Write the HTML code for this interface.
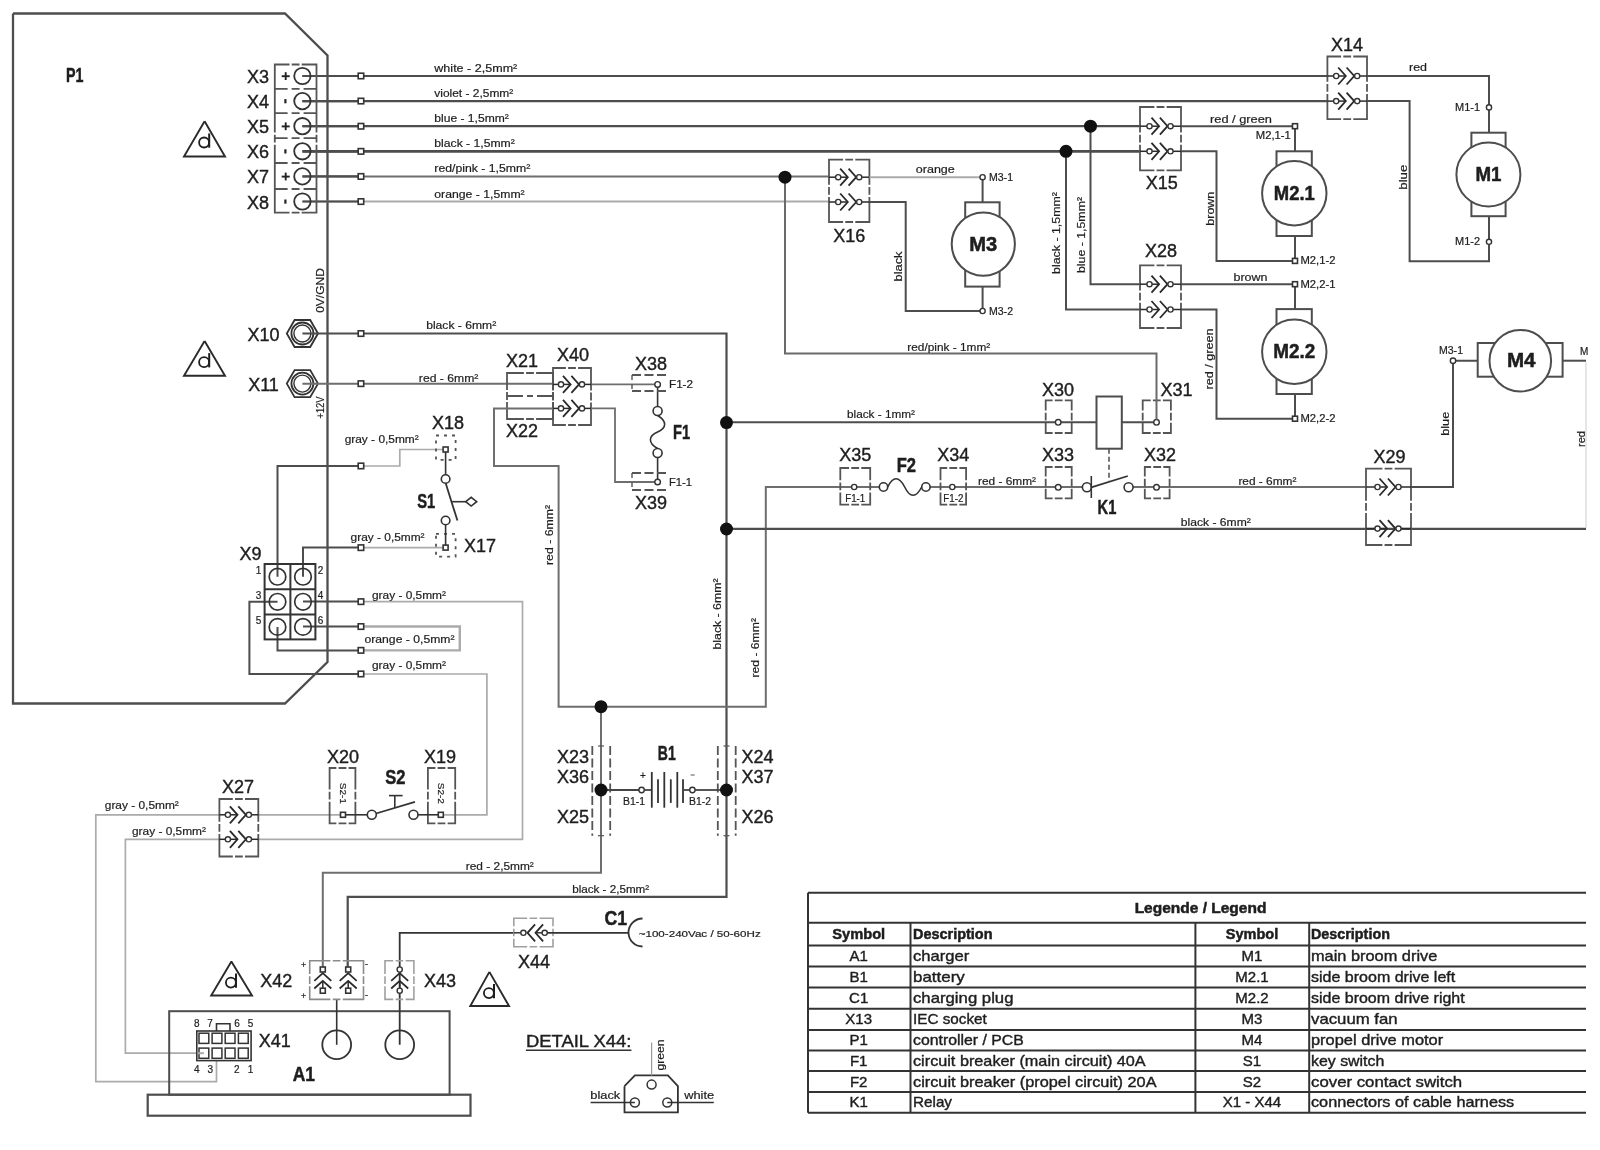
<!DOCTYPE html>
<html><head><meta charset="utf-8"><title>Wiring diagram</title>
<style>
html,body{margin:0;padding:0;background:#fff;}
body{width:1600px;height:1150px;overflow:hidden;}
svg{display:block;font-family:"Liberation Sans", sans-serif;will-change:transform;}
</style></head><body>
<svg width="1600" height="1150" viewBox="0 0 1600 1150">
<rect x="0" y="0" width="1600" height="1150" fill="#fff"/>
<path d="M13,13.5 L285,13.5 L327.5,55.5 L327.5,662 L285,703.5 L13,703.5 L13,13.5" fill="none" stroke="#4d4d4d" stroke-width="2.3" stroke-linejoin="miter"/>
<text x="74.8" y="75" font-size="20" font-weight="bold" text-anchor="middle" dominant-baseline="central" fill="#1e1e1e" textLength="17.5" lengthAdjust="spacingAndGlyphs" stroke="#1e1e1e" stroke-width="0.5">P1</text>
<path d="M204.6,121.3 L225,156.5 L184,156.5 L204.6,121.3" fill="none" stroke="#2a2a2a" stroke-width="1.9" stroke-linejoin="miter"/>
<circle cx="204.1" cy="142.5" r="5" fill="none" stroke="#1e1e1e" stroke-width="1.8"/>
<line x1="209.2" y1="133.4" x2="209.2" y2="147.7" stroke="#1e1e1e" stroke-width="2"/>
<path d="M204.6,341 L225,375.8 L184,375.8 L204.6,341" fill="none" stroke="#2a2a2a" stroke-width="1.9" stroke-linejoin="miter"/>
<circle cx="204.1" cy="362.2" r="5" fill="none" stroke="#1e1e1e" stroke-width="1.8"/>
<line x1="209.2" y1="353.1" x2="209.2" y2="367.4" stroke="#1e1e1e" stroke-width="2"/>
<path d="M302.4,76 L1327.4,76" fill="none" stroke="#4d4d4d" stroke-width="2.2" stroke-linejoin="miter"/>
<path d="M302.4,76 L361,76" fill="none" stroke="#4d4d4d" stroke-width="2.2" stroke-linejoin="miter"/>
<rect x="358.2" y="73.2" width="5.5" height="5.5" fill="#fff" stroke="#333" stroke-width="1.6"/>
<text x="434.3" y="68" font-size="11" font-weight="normal" text-anchor="start" dominant-baseline="central" fill="#1e1e1e" textLength="83" lengthAdjust="spacingAndGlyphs" stroke="#1e1e1e" stroke-width="0.2">white - 2,5mm²</text>
<text x="258" y="77" font-size="18" font-weight="normal" text-anchor="middle" dominant-baseline="central" fill="#1e1e1e" stroke="#1e1e1e" stroke-width="0.4">X3</text>
<path d="M302.4,101.1 L1327.4,101.1" fill="none" stroke="#4d4d4d" stroke-width="2.2" stroke-linejoin="miter"/>
<path d="M302.4,101.1 L361,101.1" fill="none" stroke="#4d4d4d" stroke-width="2.2" stroke-linejoin="miter"/>
<rect x="358.2" y="98.3" width="5.5" height="5.5" fill="#fff" stroke="#333" stroke-width="1.6"/>
<text x="434.3" y="93.1" font-size="11" font-weight="normal" text-anchor="start" dominant-baseline="central" fill="#1e1e1e" textLength="79" lengthAdjust="spacingAndGlyphs" stroke="#1e1e1e" stroke-width="0.2">violet - 2,5mm²</text>
<text x="258" y="102.1" font-size="18" font-weight="normal" text-anchor="middle" dominant-baseline="central" fill="#1e1e1e" stroke="#1e1e1e" stroke-width="0.4">X4</text>
<path d="M302.4,126.2 L1140,126.2" fill="none" stroke="#4d4d4d" stroke-width="2.2" stroke-linejoin="miter"/>
<path d="M302.4,126.2 L361,126.2" fill="none" stroke="#4d4d4d" stroke-width="2.2" stroke-linejoin="miter"/>
<rect x="358.2" y="123.5" width="5.5" height="5.5" fill="#fff" stroke="#333" stroke-width="1.6"/>
<text x="434.3" y="118.2" font-size="11" font-weight="normal" text-anchor="start" dominant-baseline="central" fill="#1e1e1e" textLength="74.5" lengthAdjust="spacingAndGlyphs" stroke="#1e1e1e" stroke-width="0.2">blue - 1,5mm²</text>
<text x="258" y="127.2" font-size="18" font-weight="normal" text-anchor="middle" dominant-baseline="central" fill="#1e1e1e" stroke="#1e1e1e" stroke-width="0.4">X5</text>
<path d="M302.4,151.3 L1140,151.3" fill="none" stroke="#4d4d4d" stroke-width="2.8" stroke-linejoin="miter"/>
<path d="M302.4,151.3 L361,151.3" fill="none" stroke="#4d4d4d" stroke-width="2.2" stroke-linejoin="miter"/>
<rect x="358.2" y="148.6" width="5.5" height="5.5" fill="#fff" stroke="#333" stroke-width="1.6"/>
<text x="434.3" y="143.3" font-size="11" font-weight="normal" text-anchor="start" dominant-baseline="central" fill="#1e1e1e" textLength="80.5" lengthAdjust="spacingAndGlyphs" stroke="#1e1e1e" stroke-width="0.2">black - 1,5mm²</text>
<text x="258" y="152.3" font-size="18" font-weight="normal" text-anchor="middle" dominant-baseline="central" fill="#1e1e1e" stroke="#1e1e1e" stroke-width="0.4">X6</text>
<path d="M302.4,176.4 L829,176.4" fill="none" stroke="#6e6e6e" stroke-width="2" stroke-linejoin="miter"/>
<path d="M302.4,176.4 L361,176.4" fill="none" stroke="#4d4d4d" stroke-width="2.2" stroke-linejoin="miter"/>
<rect x="358.2" y="173.7" width="5.5" height="5.5" fill="#fff" stroke="#333" stroke-width="1.6"/>
<text x="434.3" y="168.4" font-size="11" font-weight="normal" text-anchor="start" dominant-baseline="central" fill="#1e1e1e" textLength="96" lengthAdjust="spacingAndGlyphs" stroke="#1e1e1e" stroke-width="0.2">red/pink - 1,5mm²</text>
<text x="258" y="177.4" font-size="18" font-weight="normal" text-anchor="middle" dominant-baseline="central" fill="#1e1e1e" stroke="#1e1e1e" stroke-width="0.4">X7</text>
<path d="M302.4,201.5 L829,201.5" fill="none" stroke="#ababab" stroke-width="2" stroke-linejoin="miter"/>
<path d="M302.4,201.5 L361,201.5" fill="none" stroke="#4d4d4d" stroke-width="2.2" stroke-linejoin="miter"/>
<rect x="358.2" y="198.8" width="5.5" height="5.5" fill="#fff" stroke="#333" stroke-width="1.6"/>
<text x="434.3" y="193.5" font-size="11" font-weight="normal" text-anchor="start" dominant-baseline="central" fill="#1e1e1e" textLength="90.4" lengthAdjust="spacingAndGlyphs" stroke="#1e1e1e" stroke-width="0.2">orange - 1,5mm²</text>
<text x="258" y="202.5" font-size="18" font-weight="normal" text-anchor="middle" dominant-baseline="central" fill="#1e1e1e" stroke="#1e1e1e" stroke-width="0.4">X8</text>
<path d="M274.8,64.5 L288.6,64.5 M292.6,64.5 L298.6,64.5 M302.6,64.5 L316.5,64.5 M316.5,64.5 L316.5,131.6 M316.5,135.6 L316.5,141.6 M316.5,145.6 L316.5,212.6 M316.5,212.6 L302.6,212.6 M298.6,212.6 L292.6,212.6 M288.6,212.6 L274.8,212.6 M274.8,212.6 L274.8,145.6 M274.8,141.6 L274.8,135.6 M274.8,131.6 L274.8,64.5 " fill="none" stroke="#555" stroke-width="1.8" stroke-linecap="square"/>
<path d="M274.8,88.9 L287.6,88.9 M291.6,88.9 L299.6,88.9 M303.6,88.9 L316.5,88.9 " fill="none" stroke="#555" stroke-width="1.8" stroke-linecap="butt"/>
<path d="M274.8,113.2 L287.6,113.2 M291.6,113.2 L299.6,113.2 M303.6,113.2 L316.5,113.2 " fill="none" stroke="#555" stroke-width="1.8" stroke-linecap="butt"/>
<path d="M274.8,138.2 L287.6,138.2 M291.6,138.2 L299.6,138.2 M303.6,138.2 L316.5,138.2 " fill="none" stroke="#555" stroke-width="1.8" stroke-linecap="butt"/>
<path d="M274.8,163 L287.6,163 M291.6,163 L299.6,163 M303.6,163 L316.5,163 " fill="none" stroke="#555" stroke-width="1.8" stroke-linecap="butt"/>
<path d="M274.8,189 L287.6,189 M291.6,189 L299.6,189 M303.6,189 L316.5,189 " fill="none" stroke="#555" stroke-width="1.8" stroke-linecap="butt"/>
<circle cx="302.4" cy="76" r="8.2" fill="none" stroke="#333" stroke-width="1.8"/>
<line x1="281.7" y1="76.2" x2="289.7" y2="76.2" stroke="#222" stroke-width="1.9"/>
<line x1="285.7" y1="72.2" x2="285.7" y2="80" stroke="#222" stroke-width="1.9"/>
<circle cx="302.4" cy="101.1" r="8.2" fill="none" stroke="#333" stroke-width="1.8"/>
<line x1="285.4" y1="99.1" x2="285.4" y2="103.3" stroke="#222" stroke-width="2.2"/>
<circle cx="302.4" cy="126.2" r="8.2" fill="none" stroke="#333" stroke-width="1.8"/>
<line x1="281.7" y1="126.4" x2="289.7" y2="126.4" stroke="#222" stroke-width="1.9"/>
<line x1="285.7" y1="122.4" x2="285.7" y2="130.2" stroke="#222" stroke-width="1.9"/>
<circle cx="302.4" cy="151.3" r="8.2" fill="none" stroke="#333" stroke-width="1.8"/>
<line x1="285.4" y1="149.3" x2="285.4" y2="153.5" stroke="#222" stroke-width="2.2"/>
<circle cx="302.4" cy="176.4" r="8.2" fill="none" stroke="#333" stroke-width="1.8"/>
<line x1="281.7" y1="176.6" x2="289.7" y2="176.6" stroke="#222" stroke-width="1.9"/>
<line x1="285.7" y1="172.6" x2="285.7" y2="180.4" stroke="#222" stroke-width="1.9"/>
<circle cx="302.4" cy="201.5" r="8.2" fill="none" stroke="#333" stroke-width="1.8"/>
<line x1="285.4" y1="199.5" x2="285.4" y2="203.7" stroke="#222" stroke-width="2.2"/>
<path d="M318,333.5 L310.2,347 L294.6,347 L286.8,333.5 L294.6,320 L310.2,320 L318,333.5" fill="none" stroke="#333" stroke-width="1.8" stroke-linejoin="miter"/>
<circle cx="302.4" cy="333.5" r="11" fill="none" stroke="#333" stroke-width="1.8"/>
<circle cx="302.4" cy="333.5" r="8.5" fill="none" stroke="#333" stroke-width="1.4"/>
<text x="263.5" y="334.5" font-size="18" font-weight="normal" text-anchor="middle" dominant-baseline="central" fill="#1e1e1e" stroke="#1e1e1e" stroke-width="0.4">X10</text>
<path d="M318,383.6 L310.2,397.1 L294.6,397.1 L286.8,383.6 L294.6,370.1 L310.2,370.1 L318,383.6" fill="none" stroke="#333" stroke-width="1.8" stroke-linejoin="miter"/>
<circle cx="302.4" cy="383.6" r="11" fill="none" stroke="#333" stroke-width="1.8"/>
<circle cx="302.4" cy="383.6" r="8.5" fill="none" stroke="#333" stroke-width="1.4"/>
<text x="263.5" y="384.6" font-size="18" font-weight="normal" text-anchor="middle" dominant-baseline="central" fill="#1e1e1e" stroke="#1e1e1e" stroke-width="0.4">X11</text>
<text x="320.3" y="290.5" font-size="10.5" font-weight="normal" text-anchor="middle" dominant-baseline="central" fill="#1e1e1e" transform="rotate(-90 320.3 290.5)" textLength="44.6" lengthAdjust="spacingAndGlyphs" stroke="#1e1e1e" stroke-width="0.2">0V/GND</text>
<text x="320.3" y="407.5" font-size="10.5" font-weight="normal" text-anchor="middle" dominant-baseline="central" fill="#1e1e1e" transform="rotate(-90 320.3 407.5)" textLength="22" lengthAdjust="spacingAndGlyphs" stroke="#1e1e1e" stroke-width="0.2">+12V</text>
<path d="M302.4,333.5 L726.5,333.5 L726.5,896.8 L347.7,896.8 L347.7,969" fill="none" stroke="#4d4d4d" stroke-width="2.2" stroke-linejoin="miter"/>
<rect x="358.2" y="330.8" width="5.5" height="5.5" fill="#fff" stroke="#333" stroke-width="1.6"/>
<text x="461.2" y="325.3" font-size="11" font-weight="normal" text-anchor="middle" dominant-baseline="central" fill="#1e1e1e" textLength="70" lengthAdjust="spacingAndGlyphs" stroke="#1e1e1e" stroke-width="0.2">black - 6mm²</text>
<path d="M302.4,383.7 L553,383.7" fill="none" stroke="#6e6e6e" stroke-width="2" stroke-linejoin="miter"/>
<rect x="358.2" y="380.9" width="5.5" height="5.5" fill="#fff" stroke="#333" stroke-width="1.6"/>
<text x="448.6" y="377.7" font-size="11" font-weight="normal" text-anchor="middle" dominant-baseline="central" fill="#1e1e1e" textLength="59.5" lengthAdjust="spacingAndGlyphs" stroke="#1e1e1e" stroke-width="0.2">red - 6mm²</text>
<path d="M591,384.4 L657.6,384.4" fill="none" stroke="#6e6e6e" stroke-width="1.8" stroke-linejoin="miter"/>
<path d="M507,373 L523,373 M527,373 L533,373 M537,373 L553,373 M553,373 L553,389 M553,393 L553,399 M553,403 L553,419 M553,419 L537,419 M533,419 L527,419 M523,419 L507,419 M507,419 L507,403 M507,399 L507,393 M507,389 L507,373 " fill="none" stroke="#555" stroke-width="1.8" stroke-linecap="square"/>
<path d="M507,396 L523,396 M527,396 L533,396 M537,396 L553,396 " fill="none" stroke="#555" stroke-width="1.8" stroke-linecap="butt"/>
<text x="522" y="361" font-size="18" font-weight="normal" text-anchor="middle" dominant-baseline="central" fill="#1e1e1e" stroke="#1e1e1e" stroke-width="0.4">X21</text>
<text x="522" y="431" font-size="18" font-weight="normal" text-anchor="middle" dominant-baseline="central" fill="#1e1e1e" stroke="#1e1e1e" stroke-width="0.4">X22</text>
<path d="M553,368 L565,368 M569,368 L575,368 M579,368 L591,368 M591,368 L591,389.5 M591,393.5 L591,399.5 M591,403.5 L591,425 M591,425 L579,425 M575,425 L569,425 M565,425 L553,425 M553,425 L553,403.5 M553,399.5 L553,393.5 M553,389.5 L553,368 " fill="none" stroke="#555" stroke-width="1.8" stroke-linecap="square"/>
<line x1="553" y1="384.4" x2="570.6" y2="384.4" stroke="#2a2a2a" stroke-width="1.5"/>
<line x1="582" y1="384.4" x2="591" y2="384.4" stroke="#2a2a2a" stroke-width="1.5"/>
<path d="M563,375.9 L570.6,384.4 L563,392.9" fill="none" stroke="#2a2a2a" stroke-width="1.8" stroke-linejoin="miter"/>
<path d="M571.4,375.9 L579,384.4 L571.4,392.9" fill="none" stroke="#2a2a2a" stroke-width="1.8" stroke-linejoin="miter"/>
<circle cx="561" cy="384.4" r="2.6" fill="#fff" stroke="#333" stroke-width="1.4"/>
<circle cx="582" cy="384.4" r="2.6" fill="#fff" stroke="#333" stroke-width="1.4"/>
<line x1="553" y1="408.4" x2="570.6" y2="408.4" stroke="#2a2a2a" stroke-width="1.5"/>
<line x1="582" y1="408.4" x2="591" y2="408.4" stroke="#2a2a2a" stroke-width="1.5"/>
<path d="M563,399.9 L570.6,408.4 L563,416.9" fill="none" stroke="#2a2a2a" stroke-width="1.8" stroke-linejoin="miter"/>
<path d="M571.4,399.9 L579,408.4 L571.4,416.9" fill="none" stroke="#2a2a2a" stroke-width="1.8" stroke-linejoin="miter"/>
<circle cx="561" cy="408.4" r="2.6" fill="#fff" stroke="#333" stroke-width="1.4"/>
<circle cx="582" cy="408.4" r="2.6" fill="#fff" stroke="#333" stroke-width="1.4"/>
<text x="573" y="355" font-size="18" font-weight="normal" text-anchor="middle" dominant-baseline="central" fill="#1e1e1e" stroke="#1e1e1e" stroke-width="0.4">X40</text>
<path d="M553,408.4 L494,408.4 L494,466 L558.6,466 L558.6,706.7 L765.8,706.7 L765.8,487 L840.3,487" fill="none" stroke="#6e6e6e" stroke-width="2" stroke-linejoin="miter"/>
<text x="549" y="535" font-size="11" font-weight="normal" text-anchor="middle" dominant-baseline="central" fill="#1e1e1e" transform="rotate(-90 549 535)" textLength="60" lengthAdjust="spacingAndGlyphs" stroke="#1e1e1e" stroke-width="0.2">red - 6mm²</text>
<text x="717" y="614" font-size="11" font-weight="normal" text-anchor="middle" dominant-baseline="central" fill="#1e1e1e" transform="rotate(-90 717 614)" textLength="71" lengthAdjust="spacingAndGlyphs" stroke="#1e1e1e" stroke-width="0.2">black - 6mm²</text>
<text x="754.7" y="647.8" font-size="11" font-weight="normal" text-anchor="middle" dominant-baseline="central" fill="#1e1e1e" transform="rotate(-90 754.7 647.8)" textLength="59.5" lengthAdjust="spacingAndGlyphs" stroke="#1e1e1e" stroke-width="0.2">red - 6mm²</text>
<path d="M591,408.4 L615,408.4 L615,482 L657.6,482" fill="none" stroke="#6e6e6e" stroke-width="1.8" stroke-linejoin="miter"/>
<line x1="657.6" y1="384.4" x2="657.6" y2="406.5" stroke="#333" stroke-width="1.6"/>
<circle cx="657.6" cy="411" r="4.5" fill="#fff" stroke="#333" stroke-width="1.6"/>
<path d="M657.6,415.5 C667,421 667,428 657.6,432 C648,436 648,443 657.6,448.5" fill="none" stroke="#333" stroke-width="1.6"/>
<circle cx="657.6" cy="453" r="4.5" fill="#fff" stroke="#333" stroke-width="1.6"/>
<line x1="657.6" y1="457.5" x2="657.6" y2="482" stroke="#333" stroke-width="1.6"/>
<circle cx="657.6" cy="384.4" r="2.8" fill="#fff" stroke="#333" stroke-width="1.4"/>
<circle cx="657.6" cy="482" r="2.8" fill="#fff" stroke="#333" stroke-width="1.4"/>
<text x="681.5" y="432.4" font-size="20" font-weight="bold" text-anchor="middle" dominant-baseline="central" fill="#1e1e1e" textLength="17" lengthAdjust="spacingAndGlyphs" stroke="#1e1e1e" stroke-width="0.5">F1</text>
<text x="669" y="384.4" font-size="10" font-weight="normal" text-anchor="start" dominant-baseline="central" fill="#1e1e1e" textLength="24" lengthAdjust="spacingAndGlyphs" stroke="#1e1e1e" stroke-width="0.2">F1-2</text>
<text x="669" y="482" font-size="10" font-weight="normal" text-anchor="start" dominant-baseline="central" fill="#1e1e1e" textLength="23" lengthAdjust="spacingAndGlyphs" stroke="#1e1e1e" stroke-width="0.2">F1-1</text>
<line x1="632" y1="375" x2="668" y2="375" stroke="#555" stroke-width="1.8" stroke-dasharray="9 3.5"/>
<line x1="632" y1="391" x2="668" y2="391" stroke="#555" stroke-width="1.8" stroke-dasharray="9 3.5"/>
<line x1="632" y1="375" x2="632" y2="391" stroke="#555" stroke-width="1.4" stroke-dasharray="5 4"/>
<line x1="632" y1="473" x2="668" y2="473" stroke="#555" stroke-width="1.8" stroke-dasharray="9 3.5"/>
<line x1="632" y1="490" x2="668" y2="490" stroke="#555" stroke-width="1.8" stroke-dasharray="9 3.5"/>
<line x1="632" y1="473" x2="632" y2="490" stroke="#555" stroke-width="1.4" stroke-dasharray="5 4"/>
<text x="651" y="363.6" font-size="18" font-weight="normal" text-anchor="middle" dominant-baseline="central" fill="#1e1e1e" stroke="#1e1e1e" stroke-width="0.4">X38</text>
<text x="651" y="503" font-size="18" font-weight="normal" text-anchor="middle" dominant-baseline="central" fill="#1e1e1e" stroke="#1e1e1e" stroke-width="0.4">X39</text>
<path d="M726.5,422.3 L1096.5,422.3" fill="none" stroke="#4d4d4d" stroke-width="2" stroke-linejoin="miter"/>
<text x="881" y="413.9" font-size="11" font-weight="normal" text-anchor="middle" dominant-baseline="central" fill="#1e1e1e" textLength="68" lengthAdjust="spacingAndGlyphs" stroke="#1e1e1e" stroke-width="0.2">black - 1mm²</text>
<path d="M1121.8,422.3 L1156.5,422.3" fill="none" stroke="#4d4d4d" stroke-width="2" stroke-linejoin="miter"/>
<rect x="1096.5" y="396.5" width="25.3" height="52.2" fill="#fff" stroke="#4d4d4d" stroke-width="2"/>
<path d="M1045.7,400.4 L1051.7,400.4 M1055.7,400.4 L1061.7,400.4 M1065.7,400.4 L1071.7,400.4 M1071.7,400.4 L1071.7,409.7 M1071.7,413.7 L1071.7,419.7 M1071.7,423.7 L1071.7,433 M1071.7,433 L1065.7,433 M1061.7,433 L1055.7,433 M1051.7,433 L1045.7,433 M1045.7,433 L1045.7,423.7 M1045.7,419.7 L1045.7,413.7 M1045.7,409.7 L1045.7,400.4 " fill="none" stroke="#555" stroke-width="1.8" stroke-linecap="square"/>
<path d="M1142.7,400.4 L1149.8,400.4 M1153.8,400.4 L1159.8,400.4 M1163.8,400.4 L1170.9,400.4 M1170.9,400.4 L1170.9,409.7 M1170.9,413.7 L1170.9,419.7 M1170.9,423.7 L1170.9,433 M1170.9,433 L1163.8,433 M1159.8,433 L1153.8,433 M1149.8,433 L1142.7,433 M1142.7,433 L1142.7,423.7 M1142.7,419.7 L1142.7,413.7 M1142.7,409.7 L1142.7,400.4 " fill="none" stroke="#555" stroke-width="1.8" stroke-linecap="square"/>
<circle cx="1058.2" cy="422.3" r="2.8" fill="#fff" stroke="#333" stroke-width="1.4"/>
<circle cx="1156.5" cy="422.3" r="2.8" fill="#fff" stroke="#333" stroke-width="1.4"/>
<text x="1058" y="390" font-size="18" font-weight="normal" text-anchor="middle" dominant-baseline="central" fill="#1e1e1e" stroke="#1e1e1e" stroke-width="0.4">X30</text>
<text x="1176.6" y="390" font-size="18" font-weight="normal" text-anchor="middle" dominant-baseline="central" fill="#1e1e1e" stroke="#1e1e1e" stroke-width="0.4">X31</text>
<path d="M785,177.2 L785,353.6 L1156.5,353.6 L1156.5,419.5" fill="none" stroke="#6a6a6a" stroke-width="2" stroke-linejoin="miter"/>
<text x="948.8" y="347" font-size="11" font-weight="normal" text-anchor="middle" dominant-baseline="central" fill="#1e1e1e" textLength="83" lengthAdjust="spacingAndGlyphs" stroke="#1e1e1e" stroke-width="0.2">red/pink - 1mm²</text>
<path d="M726.5,528.8 L1586,528.8" fill="none" stroke="#4d4d4d" stroke-width="2.2" stroke-linejoin="miter"/>
<text x="1215.8" y="521.8" font-size="11" font-weight="normal" text-anchor="middle" dominant-baseline="central" fill="#1e1e1e" textLength="70" lengthAdjust="spacingAndGlyphs" stroke="#1e1e1e" stroke-width="0.2">black - 6mm²</text>
<path d="M840.3,487 L883.5,487" fill="none" stroke="#6e6e6e" stroke-width="1.8" stroke-linejoin="miter"/>
<path d="M925.9,487 L1086.9,487" fill="none" stroke="#6e6e6e" stroke-width="1.8" stroke-linejoin="miter"/>
<path d="M1128.6,487 L1366,487" fill="none" stroke="#6e6e6e" stroke-width="1.8" stroke-linejoin="miter"/>
<text x="1007" y="481" font-size="11" font-weight="normal" text-anchor="middle" dominant-baseline="central" fill="#1e1e1e" textLength="58" lengthAdjust="spacingAndGlyphs" stroke="#1e1e1e" stroke-width="0.2">red - 6mm²</text>
<text x="1267.4" y="481.3" font-size="11" font-weight="normal" text-anchor="middle" dominant-baseline="central" fill="#1e1e1e" textLength="58" lengthAdjust="spacingAndGlyphs" stroke="#1e1e1e" stroke-width="0.2">red - 6mm²</text>
<path d="M840.3,468 L848.2,468 M852.2,468 L858.2,468 M862.2,468 L870.2,468 M870.2,468 L870.2,479.3 M870.2,483.3 L870.2,489.3 M870.2,493.3 L870.2,504.6 M870.2,504.6 L862.2,504.6 M858.2,504.6 L852.2,504.6 M848.2,504.6 L840.3,504.6 M840.3,504.6 L840.3,493.3 M840.3,489.3 L840.3,483.3 M840.3,479.3 L840.3,468 " fill="none" stroke="#555" stroke-width="1.8" stroke-linecap="square"/>
<circle cx="854.2" cy="487" r="2.6" fill="#fff" stroke="#333" stroke-width="1.4"/>
<text x="855.2" y="498.8" font-size="10" font-weight="normal" text-anchor="middle" dominant-baseline="central" fill="#1e1e1e" textLength="20" lengthAdjust="spacingAndGlyphs" stroke="#1e1e1e" stroke-width="0.2">F1-1</text>
<text x="855.2" y="455.2" font-size="18" font-weight="normal" text-anchor="middle" dominant-baseline="central" fill="#1e1e1e" stroke="#1e1e1e" stroke-width="0.4">X35</text>
<path d="M940.5,468 L946.3,468 M950.3,468 L956.3,468 M960.3,468 L966.1,468 M966.1,468 L966.1,479.3 M966.1,483.3 L966.1,489.3 M966.1,493.3 L966.1,504.6 M966.1,504.6 L960.3,504.6 M956.3,504.6 L950.3,504.6 M946.3,504.6 L940.5,504.6 M940.5,504.6 L940.5,493.3 M940.5,489.3 L940.5,483.3 M940.5,479.3 L940.5,468 " fill="none" stroke="#555" stroke-width="1.8" stroke-linecap="square"/>
<circle cx="952.3" cy="487" r="2.6" fill="#fff" stroke="#333" stroke-width="1.4"/>
<text x="953.3" y="498.8" font-size="10" font-weight="normal" text-anchor="middle" dominant-baseline="central" fill="#1e1e1e" textLength="20" lengthAdjust="spacingAndGlyphs" stroke="#1e1e1e" stroke-width="0.2">F1-2</text>
<text x="953.3" y="455.2" font-size="18" font-weight="normal" text-anchor="middle" dominant-baseline="central" fill="#1e1e1e" stroke="#1e1e1e" stroke-width="0.4">X34</text>
<circle cx="883.5" cy="487" r="4.2" fill="#fff" stroke="#333" stroke-width="1.6"/>
<circle cx="925.9" cy="487" r="4.2" fill="#fff" stroke="#333" stroke-width="1.6"/>
<path d="M887.7,487 C893,476 899,476 904.7,487 C910,498 916,498 921.7,487" fill="none" stroke="#333" stroke-width="1.6"/>
<text x="906.4" y="465" font-size="20" font-weight="bold" text-anchor="middle" dominant-baseline="central" fill="#1e1e1e" textLength="19.3" lengthAdjust="spacingAndGlyphs" stroke="#1e1e1e" stroke-width="0.5">F2</text>
<path d="M1045.7,467 L1051.7,467 M1055.7,467 L1061.7,467 M1065.7,467 L1071.7,467 M1071.7,467 L1071.7,475.6 M1071.7,479.6 L1071.7,485.6 M1071.7,489.6 L1071.7,498.3 M1071.7,498.3 L1065.7,498.3 M1061.7,498.3 L1055.7,498.3 M1051.7,498.3 L1045.7,498.3 M1045.7,498.3 L1045.7,489.6 M1045.7,485.6 L1045.7,479.6 M1045.7,475.6 L1045.7,467 " fill="none" stroke="#555" stroke-width="1.8" stroke-linecap="square"/>
<circle cx="1058.2" cy="487.3" r="2.8" fill="#fff" stroke="#333" stroke-width="1.4"/>
<text x="1058" y="455.2" font-size="18" font-weight="normal" text-anchor="middle" dominant-baseline="central" fill="#1e1e1e" stroke="#1e1e1e" stroke-width="0.4">X33</text>
<circle cx="1086.9" cy="487.3" r="4.5" fill="#fff" stroke="#333" stroke-width="1.6"/>
<line x1="1091.3" y1="476" x2="1091.3" y2="498" stroke="#333" stroke-width="1.6"/>
<line x1="1091.3" y1="487.3" x2="1127.8" y2="476" stroke="#333" stroke-width="1.8"/>
<circle cx="1128.6" cy="487.3" r="4.5" fill="#fff" stroke="#333" stroke-width="1.6"/>
<line x1="1109" y1="448.7" x2="1109" y2="481" stroke="#555" stroke-width="1.6" stroke-dasharray="5 3"/>
<text x="1107" y="507.4" font-size="20" font-weight="bold" text-anchor="middle" dominant-baseline="central" fill="#1e1e1e" textLength="18.8" lengthAdjust="spacingAndGlyphs" stroke="#1e1e1e" stroke-width="0.5">K1</text>
<path d="M1144.8,467 L1150.2,467 M1154.2,467 L1160.2,467 M1164.2,467 L1169.6,467 M1169.6,467 L1169.6,475.6 M1169.6,479.6 L1169.6,485.6 M1169.6,489.6 L1169.6,498.3 M1169.6,498.3 L1164.2,498.3 M1160.2,498.3 L1154.2,498.3 M1150.2,498.3 L1144.8,498.3 M1144.8,498.3 L1144.8,489.6 M1144.8,485.6 L1144.8,479.6 M1144.8,475.6 L1144.8,467 " fill="none" stroke="#555" stroke-width="1.8" stroke-linecap="square"/>
<circle cx="1156.5" cy="487.3" r="2.8" fill="#fff" stroke="#333" stroke-width="1.4"/>
<text x="1160" y="455" font-size="18" font-weight="normal" text-anchor="middle" dominant-baseline="central" fill="#1e1e1e" stroke="#1e1e1e" stroke-width="0.4">X32</text>
<path d="M1366,468.6 L1381.5,468.6 M1385.5,468.6 L1391.5,468.6 M1395.5,468.6 L1411,468.6 M1411,468.6 L1411,499.8 M1411,503.8 L1411,509.8 M1411,513.8 L1411,545 M1411,545 L1395.5,545 M1391.5,545 L1385.5,545 M1381.5,545 L1366,545 M1366,545 L1366,513.8 M1366,509.8 L1366,503.8 M1366,499.8 L1366,468.6 " fill="none" stroke="#555" stroke-width="1.8" stroke-linecap="square"/>
<line x1="1366" y1="487" x2="1387.1" y2="487" stroke="#2a2a2a" stroke-width="1.5"/>
<line x1="1398.5" y1="487" x2="1411" y2="487" stroke="#2a2a2a" stroke-width="1.5"/>
<path d="M1379.5,478.5 L1387.1,487 L1379.5,495.5" fill="none" stroke="#2a2a2a" stroke-width="1.8" stroke-linejoin="miter"/>
<path d="M1387.9,478.5 L1395.5,487 L1387.9,495.5" fill="none" stroke="#2a2a2a" stroke-width="1.8" stroke-linejoin="miter"/>
<circle cx="1377.5" cy="487" r="2.6" fill="#fff" stroke="#333" stroke-width="1.4"/>
<circle cx="1398.5" cy="487" r="2.6" fill="#fff" stroke="#333" stroke-width="1.4"/>
<line x1="1366" y1="528.6" x2="1387.1" y2="528.6" stroke="#2a2a2a" stroke-width="1.5"/>
<line x1="1398.5" y1="528.6" x2="1411" y2="528.6" stroke="#2a2a2a" stroke-width="1.5"/>
<path d="M1379.5,520.1 L1387.1,528.6 L1379.5,537.1" fill="none" stroke="#2a2a2a" stroke-width="1.8" stroke-linejoin="miter"/>
<path d="M1387.9,520.1 L1395.5,528.6 L1387.9,537.1" fill="none" stroke="#2a2a2a" stroke-width="1.8" stroke-linejoin="miter"/>
<circle cx="1377.5" cy="528.6" r="2.6" fill="#fff" stroke="#333" stroke-width="1.4"/>
<circle cx="1398.5" cy="528.6" r="2.6" fill="#fff" stroke="#333" stroke-width="1.4"/>
<text x="1389.5" y="456.7" font-size="18" font-weight="normal" text-anchor="middle" dominant-baseline="central" fill="#1e1e1e" stroke="#1e1e1e" stroke-width="0.4">X29</text>
<path d="M1411,487 L1453,487 L1453,360.7 L1477.7,360.7" fill="none" stroke="#4d4d4d" stroke-width="2" stroke-linejoin="miter"/>
<circle cx="1453" cy="360.7" r="2.7" fill="#fff" stroke="#333" stroke-width="1.4"/>
<text x="1445" y="423.8" font-size="11" font-weight="normal" text-anchor="middle" dominant-baseline="central" fill="#1e1e1e" transform="rotate(-90 1445 423.8)" textLength="24" lengthAdjust="spacingAndGlyphs" stroke="#1e1e1e" stroke-width="0.2">blue</text>
<text x="1451" y="350.9" font-size="10" font-weight="normal" text-anchor="middle" dominant-baseline="central" fill="#1e1e1e" textLength="24" lengthAdjust="spacingAndGlyphs" stroke="#1e1e1e" stroke-width="0.2">M3-1</text>
<rect x="1477.7" y="343" width="84.9" height="33.7" fill="#fff" stroke="#4d4d4d" stroke-width="2"/>
<circle cx="1520.3" cy="360.7" r="30.8" fill="#fff" stroke="#4d4d4d" stroke-width="2"/>
<text x="1521.2" y="360.2" font-size="20" font-weight="bold" text-anchor="middle" dominant-baseline="central" fill="#1e1e1e" textLength="28.6" lengthAdjust="spacingAndGlyphs" stroke="#1e1e1e" stroke-width="0.5">M4</text>
<path d="M1562.6,360.7 L1586,360.7" fill="none" stroke="#4d4d4d" stroke-width="2" stroke-linejoin="miter"/>
<text x="1580" y="351" font-size="10" font-weight="normal" text-anchor="start" dominant-baseline="central" fill="#1e1e1e" stroke="#1e1e1e" stroke-width="0.2">M</text>
<line x1="1586" y1="362" x2="1586" y2="528" stroke="#d6d6d6" stroke-width="1.2"/>
<text x="1580.5" y="439" font-size="11" font-weight="normal" text-anchor="middle" dominant-baseline="central" fill="#1e1e1e" transform="rotate(-90 1580.5 439)" textLength="16" lengthAdjust="spacingAndGlyphs" stroke="#1e1e1e" stroke-width="0.2">red</text>
<path d="M829,159.7 L842.2,159.7 M846.2,159.7 L852.2,159.7 M856.2,159.7 L869.4,159.7 M869.4,159.7 L869.4,183.8 M869.4,187.8 L869.4,193.8 M869.4,197.8 L869.4,222 M869.4,222 L856.2,222 M852.2,222 L846.2,222 M842.2,222 L829,222 M829,222 L829,197.8 M829,193.8 L829,187.8 M829,183.8 L829,159.7 " fill="none" stroke="#555" stroke-width="1.8" stroke-linecap="square"/>
<line x1="829" y1="177.2" x2="847.8" y2="177.2" stroke="#2a2a2a" stroke-width="1.5"/>
<line x1="859.2" y1="177.2" x2="869.4" y2="177.2" stroke="#2a2a2a" stroke-width="1.5"/>
<path d="M840.2,168.7 L847.8,177.2 L840.2,185.7" fill="none" stroke="#2a2a2a" stroke-width="1.8" stroke-linejoin="miter"/>
<path d="M848.6,168.7 L856.2,177.2 L848.6,185.7" fill="none" stroke="#2a2a2a" stroke-width="1.8" stroke-linejoin="miter"/>
<circle cx="838.2" cy="177.2" r="2.6" fill="#fff" stroke="#333" stroke-width="1.4"/>
<circle cx="859.2" cy="177.2" r="2.6" fill="#fff" stroke="#333" stroke-width="1.4"/>
<line x1="829" y1="202" x2="847.8" y2="202" stroke="#2a2a2a" stroke-width="1.5"/>
<line x1="859.2" y1="202" x2="869.4" y2="202" stroke="#2a2a2a" stroke-width="1.5"/>
<path d="M840.2,193.5 L847.8,202 L840.2,210.5" fill="none" stroke="#2a2a2a" stroke-width="1.8" stroke-linejoin="miter"/>
<path d="M848.6,193.5 L856.2,202 L848.6,210.5" fill="none" stroke="#2a2a2a" stroke-width="1.8" stroke-linejoin="miter"/>
<circle cx="838.2" cy="202" r="2.6" fill="#fff" stroke="#333" stroke-width="1.4"/>
<circle cx="859.2" cy="202" r="2.6" fill="#fff" stroke="#333" stroke-width="1.4"/>
<text x="849.2" y="235.6" font-size="18" font-weight="normal" text-anchor="middle" dominant-baseline="central" fill="#1e1e1e" stroke="#1e1e1e" stroke-width="0.4">X16</text>
<path d="M869.4,177.2 L982.6,177.2" fill="none" stroke="#ababab" stroke-width="2" stroke-linejoin="miter"/>
<line x1="982.6" y1="177.2" x2="982.6" y2="202.3" stroke="#4d4d4d" stroke-width="2"/>
<text x="935.3" y="169.3" font-size="11" font-weight="normal" text-anchor="middle" dominant-baseline="central" fill="#1e1e1e" textLength="39" lengthAdjust="spacingAndGlyphs" stroke="#1e1e1e" stroke-width="0.2">orange</text>
<path d="M869.4,202 L905.7,202 L905.7,311 L982.6,311 L982.6,286.6" fill="none" stroke="#4d4d4d" stroke-width="2" stroke-linejoin="miter"/>
<text x="897.6" y="266.5" font-size="11" font-weight="normal" text-anchor="middle" dominant-baseline="central" fill="#1e1e1e" transform="rotate(-90 897.6 266.5)" textLength="30" lengthAdjust="spacingAndGlyphs" stroke="#1e1e1e" stroke-width="0.2">black</text>
<rect x="965.2" y="202.3" width="34.4" height="84.3" fill="#fff" stroke="#4d4d4d" stroke-width="2"/>
<circle cx="983.3" cy="244.1" r="31.6" fill="#fff" stroke="#4d4d4d" stroke-width="2"/>
<text x="983.3" y="243.6" font-size="20" font-weight="bold" text-anchor="middle" dominant-baseline="central" fill="#1e1e1e" textLength="28" lengthAdjust="spacingAndGlyphs" stroke="#1e1e1e" stroke-width="0.5">M3</text>
<circle cx="982.6" cy="177.2" r="2.6" fill="#fff" stroke="#333" stroke-width="1.4"/>
<circle cx="982.6" cy="311" r="2.6" fill="#fff" stroke="#333" stroke-width="1.4"/>
<text x="989" y="177.2" font-size="10" font-weight="normal" text-anchor="start" dominant-baseline="central" fill="#1e1e1e" textLength="24" lengthAdjust="spacingAndGlyphs" stroke="#1e1e1e" stroke-width="0.2">M3-1</text>
<text x="989" y="311" font-size="10" font-weight="normal" text-anchor="start" dominant-baseline="central" fill="#1e1e1e" textLength="24" lengthAdjust="spacingAndGlyphs" stroke="#1e1e1e" stroke-width="0.2">M3-2</text>
<path d="M1090.5,126.2 L1090.5,284.2 L1140,284.2" fill="none" stroke="#4d4d4d" stroke-width="2" stroke-linejoin="miter"/>
<path d="M1066,151.3 L1066,309.5 L1140,309.5" fill="none" stroke="#4d4d4d" stroke-width="2" stroke-linejoin="miter"/>
<text x="1056" y="233" font-size="11" font-weight="normal" text-anchor="middle" dominant-baseline="central" fill="#1e1e1e" transform="rotate(-90 1056 233)" textLength="82" lengthAdjust="spacingAndGlyphs" stroke="#1e1e1e" stroke-width="0.2">black - 1,5mm²</text>
<text x="1081" y="235" font-size="11" font-weight="normal" text-anchor="middle" dominant-baseline="central" fill="#1e1e1e" transform="rotate(-90 1081 235)" textLength="76" lengthAdjust="spacingAndGlyphs" stroke="#1e1e1e" stroke-width="0.2">blue - 1,5mm²</text>
<path d="M1140,107 L1153.5,107 M1157.5,107 L1163.5,107 M1167.5,107 L1181,107 M1181,107 L1181,131.7 M1181,135.7 L1181,141.7 M1181,145.7 L1181,170.4 M1181,170.4 L1167.5,170.4 M1163.5,170.4 L1157.5,170.4 M1153.5,170.4 L1140,170.4 M1140,170.4 L1140,145.7 M1140,141.7 L1140,135.7 M1140,131.7 L1140,107 " fill="none" stroke="#555" stroke-width="1.8" stroke-linecap="square"/>
<line x1="1140" y1="126.2" x2="1159.1" y2="126.2" stroke="#2a2a2a" stroke-width="1.5"/>
<line x1="1170.5" y1="126.2" x2="1181" y2="126.2" stroke="#2a2a2a" stroke-width="1.5"/>
<path d="M1151.5,117.7 L1159.1,126.2 L1151.5,134.7" fill="none" stroke="#2a2a2a" stroke-width="1.8" stroke-linejoin="miter"/>
<path d="M1159.9,117.7 L1167.5,126.2 L1159.9,134.7" fill="none" stroke="#2a2a2a" stroke-width="1.8" stroke-linejoin="miter"/>
<circle cx="1149.5" cy="126.2" r="2.6" fill="#fff" stroke="#333" stroke-width="1.4"/>
<circle cx="1170.5" cy="126.2" r="2.6" fill="#fff" stroke="#333" stroke-width="1.4"/>
<line x1="1140" y1="151.3" x2="1159.1" y2="151.3" stroke="#2a2a2a" stroke-width="1.5"/>
<line x1="1170.5" y1="151.3" x2="1181" y2="151.3" stroke="#2a2a2a" stroke-width="1.5"/>
<path d="M1151.5,142.8 L1159.1,151.3 L1151.5,159.8" fill="none" stroke="#2a2a2a" stroke-width="1.8" stroke-linejoin="miter"/>
<path d="M1159.9,142.8 L1167.5,151.3 L1159.9,159.8" fill="none" stroke="#2a2a2a" stroke-width="1.8" stroke-linejoin="miter"/>
<circle cx="1149.5" cy="151.3" r="2.6" fill="#fff" stroke="#333" stroke-width="1.4"/>
<circle cx="1170.5" cy="151.3" r="2.6" fill="#fff" stroke="#333" stroke-width="1.4"/>
<text x="1161.7" y="182.6" font-size="18" font-weight="normal" text-anchor="middle" dominant-baseline="central" fill="#1e1e1e" stroke="#1e1e1e" stroke-width="0.4">X15</text>
<path d="M1140,265.3 L1153.5,265.3 M1157.5,265.3 L1163.5,265.3 M1167.5,265.3 L1181,265.3 M1181,265.3 L1181,289.6 M1181,293.6 L1181,299.6 M1181,303.6 L1181,328 M1181,328 L1167.5,328 M1163.5,328 L1157.5,328 M1153.5,328 L1140,328 M1140,328 L1140,303.6 M1140,299.6 L1140,293.6 M1140,289.6 L1140,265.3 " fill="none" stroke="#555" stroke-width="1.8" stroke-linecap="square"/>
<line x1="1140" y1="284.2" x2="1159.1" y2="284.2" stroke="#2a2a2a" stroke-width="1.5"/>
<line x1="1170.5" y1="284.2" x2="1181" y2="284.2" stroke="#2a2a2a" stroke-width="1.5"/>
<path d="M1151.5,275.7 L1159.1,284.2 L1151.5,292.7" fill="none" stroke="#2a2a2a" stroke-width="1.8" stroke-linejoin="miter"/>
<path d="M1159.9,275.7 L1167.5,284.2 L1159.9,292.7" fill="none" stroke="#2a2a2a" stroke-width="1.8" stroke-linejoin="miter"/>
<circle cx="1149.5" cy="284.2" r="2.6" fill="#fff" stroke="#333" stroke-width="1.4"/>
<circle cx="1170.5" cy="284.2" r="2.6" fill="#fff" stroke="#333" stroke-width="1.4"/>
<line x1="1140" y1="309.5" x2="1159.1" y2="309.5" stroke="#2a2a2a" stroke-width="1.5"/>
<line x1="1170.5" y1="309.5" x2="1181" y2="309.5" stroke="#2a2a2a" stroke-width="1.5"/>
<path d="M1151.5,301 L1159.1,309.5 L1151.5,318" fill="none" stroke="#2a2a2a" stroke-width="1.8" stroke-linejoin="miter"/>
<path d="M1159.9,301 L1167.5,309.5 L1159.9,318" fill="none" stroke="#2a2a2a" stroke-width="1.8" stroke-linejoin="miter"/>
<circle cx="1149.5" cy="309.5" r="2.6" fill="#fff" stroke="#333" stroke-width="1.4"/>
<circle cx="1170.5" cy="309.5" r="2.6" fill="#fff" stroke="#333" stroke-width="1.4"/>
<text x="1161" y="250.5" font-size="18" font-weight="normal" text-anchor="middle" dominant-baseline="central" fill="#1e1e1e" stroke="#1e1e1e" stroke-width="0.4">X28</text>
<path d="M1181,126.2 L1295,126.2 L1295,151.3" fill="none" stroke="#4d4d4d" stroke-width="2" stroke-linejoin="miter"/>
<text x="1241" y="118.7" font-size="11" font-weight="normal" text-anchor="middle" dominant-baseline="central" fill="#1e1e1e" textLength="62" lengthAdjust="spacingAndGlyphs" stroke="#1e1e1e" stroke-width="0.2">red / green</text>
<path d="M1181,151.3 L1216.5,151.3 L1216.5,260.9 L1295,260.9 L1295,236" fill="none" stroke="#4d4d4d" stroke-width="2" stroke-linejoin="miter"/>
<text x="1210" y="208.7" font-size="11" font-weight="normal" text-anchor="middle" dominant-baseline="central" fill="#1e1e1e" transform="rotate(-90 1210 208.7)" textLength="34" lengthAdjust="spacingAndGlyphs" stroke="#1e1e1e" stroke-width="0.2">brown</text>
<path d="M1181,284.2 L1295,284.2 L1295,309.1" fill="none" stroke="#4d4d4d" stroke-width="2" stroke-linejoin="miter"/>
<text x="1250.5" y="276.5" font-size="11" font-weight="normal" text-anchor="middle" dominant-baseline="central" fill="#1e1e1e" textLength="34" lengthAdjust="spacingAndGlyphs" stroke="#1e1e1e" stroke-width="0.2">brown</text>
<path d="M1181,309.5 L1216.5,309.5 L1216.5,418.7 L1295,418.7 L1295,394" fill="none" stroke="#4d4d4d" stroke-width="2" stroke-linejoin="miter"/>
<text x="1208.7" y="359" font-size="11" font-weight="normal" text-anchor="middle" dominant-baseline="central" fill="#1e1e1e" transform="rotate(-90 1208.7 359)" textLength="61" lengthAdjust="spacingAndGlyphs" stroke="#1e1e1e" stroke-width="0.2">red / green</text>
<rect x="1276.5" y="151.3" width="35.3" height="84.7" fill="#fff" stroke="#4d4d4d" stroke-width="2"/>
<circle cx="1294.3" cy="193.3" r="32.2" fill="#fff" stroke="#4d4d4d" stroke-width="2"/>
<text x="1294.3" y="192.8" font-size="20" font-weight="bold" text-anchor="middle" dominant-baseline="central" fill="#1e1e1e" textLength="41" lengthAdjust="spacingAndGlyphs" stroke="#1e1e1e" stroke-width="0.5">M2.1</text>
<rect x="1276.5" y="309.1" width="35.3" height="84.9" fill="#fff" stroke="#4d4d4d" stroke-width="2"/>
<circle cx="1294.3" cy="351.7" r="32.2" fill="#fff" stroke="#4d4d4d" stroke-width="2"/>
<text x="1294.3" y="351.2" font-size="20" font-weight="bold" text-anchor="middle" dominant-baseline="central" fill="#1e1e1e" textLength="42" lengthAdjust="spacingAndGlyphs" stroke="#1e1e1e" stroke-width="0.5">M2.2</text>
<rect x="1292.5" y="123.7" width="5" height="5" fill="#fff" stroke="#333" stroke-width="1.6"/>
<rect x="1292.5" y="258.4" width="5" height="5" fill="#fff" stroke="#333" stroke-width="1.6"/>
<rect x="1292.5" y="281.7" width="5" height="5" fill="#fff" stroke="#333" stroke-width="1.6"/>
<rect x="1292.5" y="416.2" width="5" height="5" fill="#fff" stroke="#333" stroke-width="1.6"/>
<text x="1273.3" y="135.6" font-size="10" font-weight="normal" text-anchor="middle" dominant-baseline="central" fill="#1e1e1e" textLength="35" lengthAdjust="spacingAndGlyphs" stroke="#1e1e1e" stroke-width="0.2">M2,1-1</text>
<text x="1300.5" y="260.9" font-size="10" font-weight="normal" text-anchor="start" dominant-baseline="central" fill="#1e1e1e" textLength="35" lengthAdjust="spacingAndGlyphs" stroke="#1e1e1e" stroke-width="0.2">M2,1-2</text>
<text x="1300.5" y="284.2" font-size="10" font-weight="normal" text-anchor="start" dominant-baseline="central" fill="#1e1e1e" textLength="35" lengthAdjust="spacingAndGlyphs" stroke="#1e1e1e" stroke-width="0.2">M2,2-1</text>
<text x="1300.5" y="418.7" font-size="10" font-weight="normal" text-anchor="start" dominant-baseline="central" fill="#1e1e1e" textLength="35" lengthAdjust="spacingAndGlyphs" stroke="#1e1e1e" stroke-width="0.2">M2,2-2</text>
<path d="M1327.4,56.5 L1340.2,56.5 M1344.2,56.5 L1350.2,56.5 M1354.2,56.5 L1367,56.5 M1367,56.5 L1367,80.8 M1367,84.8 L1367,90.8 M1367,94.8 L1367,119.1 M1367,119.1 L1354.2,119.1 M1350.2,119.1 L1344.2,119.1 M1340.2,119.1 L1327.4,119.1 M1327.4,119.1 L1327.4,94.8 M1327.4,90.8 L1327.4,84.8 M1327.4,80.8 L1327.4,56.5 " fill="none" stroke="#555" stroke-width="1.8" stroke-linecap="square"/>
<line x1="1327.4" y1="76" x2="1345.8" y2="76" stroke="#2a2a2a" stroke-width="1.5"/>
<line x1="1357.2" y1="76" x2="1367" y2="76" stroke="#2a2a2a" stroke-width="1.5"/>
<path d="M1338.2,67.5 L1345.8,76 L1338.2,84.5" fill="none" stroke="#2a2a2a" stroke-width="1.8" stroke-linejoin="miter"/>
<path d="M1346.6,67.5 L1354.2,76 L1346.6,84.5" fill="none" stroke="#2a2a2a" stroke-width="1.8" stroke-linejoin="miter"/>
<circle cx="1336.2" cy="76" r="2.6" fill="#fff" stroke="#333" stroke-width="1.4"/>
<circle cx="1357.2" cy="76" r="2.6" fill="#fff" stroke="#333" stroke-width="1.4"/>
<line x1="1327.4" y1="101.1" x2="1345.8" y2="101.1" stroke="#2a2a2a" stroke-width="1.5"/>
<line x1="1357.2" y1="101.1" x2="1367" y2="101.1" stroke="#2a2a2a" stroke-width="1.5"/>
<path d="M1338.2,92.6 L1345.8,101.1 L1338.2,109.6" fill="none" stroke="#2a2a2a" stroke-width="1.8" stroke-linejoin="miter"/>
<path d="M1346.6,92.6 L1354.2,101.1 L1346.6,109.6" fill="none" stroke="#2a2a2a" stroke-width="1.8" stroke-linejoin="miter"/>
<circle cx="1336.2" cy="101.1" r="2.6" fill="#fff" stroke="#333" stroke-width="1.4"/>
<circle cx="1357.2" cy="101.1" r="2.6" fill="#fff" stroke="#333" stroke-width="1.4"/>
<text x="1347" y="45.3" font-size="18" font-weight="normal" text-anchor="middle" dominant-baseline="central" fill="#1e1e1e" stroke="#1e1e1e" stroke-width="0.4">X14</text>
<path d="M1367,76 L1489,76 L1489,132.7" fill="none" stroke="#4d4d4d" stroke-width="2" stroke-linejoin="miter"/>
<text x="1418" y="67" font-size="11" font-weight="normal" text-anchor="middle" dominant-baseline="central" fill="#1e1e1e" textLength="18" lengthAdjust="spacingAndGlyphs" stroke="#1e1e1e" stroke-width="0.2">red</text>
<path d="M1367,101.1 L1409.6,101.1 L1409.6,261.3 L1489,261.3 L1489,216.2" fill="none" stroke="#4d4d4d" stroke-width="2" stroke-linejoin="miter"/>
<text x="1403" y="177.2" font-size="11" font-weight="normal" text-anchor="middle" dominant-baseline="central" fill="#1e1e1e" transform="rotate(-90 1403 177.2)" textLength="25" lengthAdjust="spacingAndGlyphs" stroke="#1e1e1e" stroke-width="0.2">blue</text>
<rect x="1471.4" y="132.7" width="34.2" height="83.5" fill="#fff" stroke="#4d4d4d" stroke-width="2"/>
<circle cx="1488.4" cy="174.5" r="32" fill="#fff" stroke="#4d4d4d" stroke-width="2"/>
<text x="1488.4" y="174" font-size="20" font-weight="bold" text-anchor="middle" dominant-baseline="central" fill="#1e1e1e" textLength="26" lengthAdjust="spacingAndGlyphs" stroke="#1e1e1e" stroke-width="0.5">M1</text>
<circle cx="1489" cy="107.4" r="2.6" fill="#fff" stroke="#333" stroke-width="1.4"/>
<circle cx="1489" cy="241.8" r="2.6" fill="#fff" stroke="#333" stroke-width="1.4"/>
<text x="1467.5" y="107.4" font-size="10" font-weight="normal" text-anchor="middle" dominant-baseline="central" fill="#1e1e1e" textLength="25" lengthAdjust="spacingAndGlyphs" stroke="#1e1e1e" stroke-width="0.2">M1-1</text>
<text x="1467.5" y="241.8" font-size="10" font-weight="normal" text-anchor="middle" dominant-baseline="central" fill="#1e1e1e" textLength="25" lengthAdjust="spacingAndGlyphs" stroke="#1e1e1e" stroke-width="0.2">M1-2</text>
<path d="M277.5,576.7 L277.5,466 L361,466" fill="none" stroke="#4d4d4d" stroke-width="2" stroke-linejoin="miter"/>
<path d="M361,466 L399.8,466 L399.8,449.5 L445.6,449.5" fill="none" stroke="#ababab" stroke-width="1.7" stroke-linejoin="miter"/>
<rect x="358.2" y="463.2" width="5.5" height="5.5" fill="#fff" stroke="#333" stroke-width="1.6"/>
<text x="381.7" y="439.2" font-size="11" font-weight="normal" text-anchor="middle" dominant-baseline="central" fill="#1e1e1e" textLength="74" lengthAdjust="spacingAndGlyphs" stroke="#1e1e1e" stroke-width="0.2">gray - 0,5mm²</text>
<path d="M303,576.7 L303,547.6 L361,547.6" fill="none" stroke="#4d4d4d" stroke-width="2" stroke-linejoin="miter"/>
<path d="M361,547.6 L445.6,547.6" fill="none" stroke="#ababab" stroke-width="1.7" stroke-linejoin="miter"/>
<rect x="358.2" y="544.9" width="5.5" height="5.5" fill="#fff" stroke="#333" stroke-width="1.6"/>
<text x="387.6" y="536.7" font-size="11" font-weight="normal" text-anchor="middle" dominant-baseline="central" fill="#1e1e1e" textLength="74" lengthAdjust="spacingAndGlyphs" stroke="#1e1e1e" stroke-width="0.2">gray - 0,5mm²</text>
<path d="M303,601.6 L361,601.6" fill="none" stroke="#4d4d4d" stroke-width="2" stroke-linejoin="miter"/>
<path d="M361,601.6 L522.5,601.6 L522.5,839.3 L258.3,839.3" fill="none" stroke="#ababab" stroke-width="1.7" stroke-linejoin="miter"/>
<path d="M219.4,839.3 L125.4,839.3 L125.4,1053.2 L203.9,1053.2" fill="none" stroke="#ababab" stroke-width="1.7" stroke-linejoin="miter"/>
<rect x="358.2" y="598.9" width="5.5" height="5.5" fill="#fff" stroke="#333" stroke-width="1.6"/>
<text x="409" y="594.7" font-size="11" font-weight="normal" text-anchor="middle" dominant-baseline="central" fill="#1e1e1e" textLength="74" lengthAdjust="spacingAndGlyphs" stroke="#1e1e1e" stroke-width="0.2">gray - 0,5mm²</text>
<text x="169" y="830.6" font-size="11" font-weight="normal" text-anchor="middle" dominant-baseline="central" fill="#1e1e1e" textLength="74" lengthAdjust="spacingAndGlyphs" stroke="#1e1e1e" stroke-width="0.2">gray - 0,5mm²</text>
<path d="M277.5,601.8 L249.4,601.8 L249.4,674 L361,674" fill="none" stroke="#4d4d4d" stroke-width="2" stroke-linejoin="miter"/>
<path d="M361,674 L486.9,674 L486.9,814.8 L440.8,814.8" fill="none" stroke="#ababab" stroke-width="1.7" stroke-linejoin="miter"/>
<rect x="358.2" y="671.2" width="5.5" height="5.5" fill="#fff" stroke="#333" stroke-width="1.6"/>
<text x="409" y="664.8" font-size="11" font-weight="normal" text-anchor="middle" dominant-baseline="central" fill="#1e1e1e" textLength="74" lengthAdjust="spacingAndGlyphs" stroke="#1e1e1e" stroke-width="0.2">gray - 0,5mm²</text>
<path d="M303,626.5 L361,626.5" fill="none" stroke="#4d4d4d" stroke-width="2" stroke-linejoin="miter"/>
<path d="M277.5,627 L277.5,650.4 L361,650.4" fill="none" stroke="#4d4d4d" stroke-width="2" stroke-linejoin="miter"/>
<path d="M361,626.5 L459.8,626.5 L459.8,650.4 L361,650.4" fill="none" stroke="#ababab" stroke-width="2.4" stroke-linejoin="miter"/>
<rect x="358.2" y="623.8" width="5.5" height="5.5" fill="#fff" stroke="#333" stroke-width="1.6"/>
<rect x="358.2" y="647.6" width="5.5" height="5.5" fill="#fff" stroke="#333" stroke-width="1.6"/>
<text x="409.5" y="639.4" font-size="11" font-weight="normal" text-anchor="middle" dominant-baseline="central" fill="#1e1e1e" textLength="90" lengthAdjust="spacingAndGlyphs" stroke="#1e1e1e" stroke-width="0.2">orange - 0,5mm²</text>
<path d="M343,814.8 L258.3,814.8" fill="none" stroke="#ababab" stroke-width="1.7" stroke-linejoin="miter"/>
<path d="M219.4,814.8 L95.8,814.8 L95.8,1081.6 L216.5,1081.6 L216.5,1053.2" fill="none" stroke="#ababab" stroke-width="1.7" stroke-linejoin="miter"/>
<text x="141.8" y="805.3" font-size="11" font-weight="normal" text-anchor="middle" dominant-baseline="central" fill="#1e1e1e" textLength="74" lengthAdjust="spacingAndGlyphs" stroke="#1e1e1e" stroke-width="0.2">gray - 0,5mm²</text>
<rect x="264.6" y="564" width="50.8" height="75.4" fill="none" stroke="#333" stroke-width="2"/>
<line x1="290.4" y1="564" x2="290.4" y2="639.4" stroke="#333" stroke-width="2"/>
<line x1="264.6" y1="589.2" x2="315.4" y2="589.2" stroke="#333" stroke-width="2"/>
<line x1="264.6" y1="614.4" x2="315.4" y2="614.4" stroke="#333" stroke-width="2"/>
<circle cx="277.5" cy="576.7" r="8.3" fill="none" stroke="#333" stroke-width="1.7"/>
<circle cx="303" cy="576.7" r="8.3" fill="none" stroke="#333" stroke-width="1.7"/>
<circle cx="277.5" cy="601.8" r="8.3" fill="none" stroke="#333" stroke-width="1.7"/>
<circle cx="303" cy="601.8" r="8.3" fill="none" stroke="#333" stroke-width="1.7"/>
<circle cx="277.5" cy="626.9" r="8.3" fill="none" stroke="#333" stroke-width="1.7"/>
<circle cx="303" cy="626.9" r="8.3" fill="none" stroke="#333" stroke-width="1.7"/>
<text x="250.5" y="554" font-size="18" font-weight="normal" text-anchor="middle" dominant-baseline="central" fill="#1e1e1e" stroke="#1e1e1e" stroke-width="0.4">X9</text>
<text x="258.5" y="570" font-size="10" font-weight="normal" text-anchor="middle" dominant-baseline="central" fill="#1e1e1e" stroke="#1e1e1e" stroke-width="0.2">1</text>
<text x="320.6" y="570" font-size="10" font-weight="normal" text-anchor="middle" dominant-baseline="central" fill="#1e1e1e" stroke="#1e1e1e" stroke-width="0.2">2</text>
<text x="258.5" y="595" font-size="10" font-weight="normal" text-anchor="middle" dominant-baseline="central" fill="#1e1e1e" stroke="#1e1e1e" stroke-width="0.2">3</text>
<text x="320.6" y="595" font-size="10" font-weight="normal" text-anchor="middle" dominant-baseline="central" fill="#1e1e1e" stroke="#1e1e1e" stroke-width="0.2">4</text>
<text x="258.5" y="620" font-size="10" font-weight="normal" text-anchor="middle" dominant-baseline="central" fill="#1e1e1e" stroke="#1e1e1e" stroke-width="0.2">5</text>
<text x="320.6" y="620" font-size="10" font-weight="normal" text-anchor="middle" dominant-baseline="central" fill="#1e1e1e" stroke="#1e1e1e" stroke-width="0.2">6</text>
<rect x="436" y="435.5" width="19.6" height="24.4" fill="none" stroke="#555" stroke-width="1.8" stroke-dasharray="3 5"/>
<rect x="436" y="533.8" width="19.6" height="22.9" fill="none" stroke="#555" stroke-width="1.8" stroke-dasharray="3 5"/>
<text x="448" y="423" font-size="18" font-weight="normal" text-anchor="middle" dominant-baseline="central" fill="#1e1e1e" stroke="#1e1e1e" stroke-width="0.4">X18</text>
<text x="480" y="545.6" font-size="18" font-weight="normal" text-anchor="middle" dominant-baseline="central" fill="#1e1e1e" stroke="#1e1e1e" stroke-width="0.4">X17</text>
<line x1="445.6" y1="449.5" x2="445.6" y2="474.7" stroke="#333" stroke-width="1.6"/>
<circle cx="445.6" cy="479" r="4.3" fill="#fff" stroke="#333" stroke-width="1.6"/>
<line x1="445.6" y1="483" x2="457.4" y2="520.5" stroke="#333" stroke-width="1.8"/>
<line x1="451.5" y1="501.7" x2="465.7" y2="501.7" stroke="#333" stroke-width="1.6"/>
<path d="M465.7,501.7 L471.2,497.3 L476.7,501.7 L471.2,506.1 Z" fill="#fff" stroke="#333" stroke-width="1.6"/>
<circle cx="445.6" cy="520.5" r="4.3" fill="#fff" stroke="#333" stroke-width="1.6"/>
<line x1="445.6" y1="524.8" x2="445.6" y2="547.6" stroke="#333" stroke-width="1.6"/>
<rect x="443.1" y="447" width="5" height="5" fill="#fff" stroke="#333" stroke-width="1.6"/>
<rect x="443.1" y="545.1" width="5" height="5" fill="#fff" stroke="#333" stroke-width="1.6"/>
<text x="426.2" y="500.5" font-size="20" font-weight="bold" text-anchor="middle" dominant-baseline="central" fill="#1e1e1e" textLength="18" lengthAdjust="spacingAndGlyphs" stroke="#1e1e1e" stroke-width="0.5">S1</text>
<path d="M219.4,799 L231.9,799 M235.9,799 L241.9,799 M245.9,799 L258.3,799 M258.3,799 L258.3,820.8 M258.3,824.8 L258.3,830.8 M258.3,834.8 L258.3,856.5 M258.3,856.5 L245.9,856.5 M241.9,856.5 L235.9,856.5 M231.9,856.5 L219.4,856.5 M219.4,856.5 L219.4,834.8 M219.4,830.8 L219.4,824.8 M219.4,820.8 L219.4,799 " fill="none" stroke="#555" stroke-width="1.8" stroke-linecap="square"/>
<line x1="219.4" y1="814.8" x2="237.5" y2="814.8" stroke="#2a2a2a" stroke-width="1.5"/>
<line x1="248.9" y1="814.8" x2="258.3" y2="814.8" stroke="#2a2a2a" stroke-width="1.5"/>
<path d="M229.9,806.3 L237.5,814.8 L229.9,823.3" fill="none" stroke="#2a2a2a" stroke-width="1.8" stroke-linejoin="miter"/>
<path d="M238.3,806.3 L245.9,814.8 L238.3,823.3" fill="none" stroke="#2a2a2a" stroke-width="1.8" stroke-linejoin="miter"/>
<circle cx="227.9" cy="814.8" r="2.6" fill="#fff" stroke="#333" stroke-width="1.4"/>
<circle cx="248.9" cy="814.8" r="2.6" fill="#fff" stroke="#333" stroke-width="1.4"/>
<line x1="219.4" y1="839.3" x2="237.5" y2="839.3" stroke="#2a2a2a" stroke-width="1.5"/>
<line x1="248.9" y1="839.3" x2="258.3" y2="839.3" stroke="#2a2a2a" stroke-width="1.5"/>
<path d="M229.9,830.8 L237.5,839.3 L229.9,847.8" fill="none" stroke="#2a2a2a" stroke-width="1.8" stroke-linejoin="miter"/>
<path d="M238.3,830.8 L245.9,839.3 L238.3,847.8" fill="none" stroke="#2a2a2a" stroke-width="1.8" stroke-linejoin="miter"/>
<circle cx="227.9" cy="839.3" r="2.6" fill="#fff" stroke="#333" stroke-width="1.4"/>
<circle cx="248.9" cy="839.3" r="2.6" fill="#fff" stroke="#333" stroke-width="1.4"/>
<text x="238" y="787" font-size="18" font-weight="normal" text-anchor="middle" dominant-baseline="central" fill="#1e1e1e" stroke="#1e1e1e" stroke-width="0.4">X27</text>
<path d="M329.6,768 L335.5,768 M339.5,768 L345.5,768 M349.5,768 L355.4,768 M355.4,768 L355.4,788.7 M355.4,792.7 L355.4,798.7 M355.4,802.7 L355.4,823.4 M355.4,823.4 L349.5,823.4 M345.5,823.4 L339.5,823.4 M335.5,823.4 L329.6,823.4 M329.6,823.4 L329.6,802.7 M329.6,798.7 L329.6,792.7 M329.6,788.7 L329.6,768 " fill="none" stroke="#555" stroke-width="1.8" stroke-linecap="square"/>
<path d="M427.9,768 L434.5,768 M438.5,768 L444.5,768 M448.5,768 L455.2,768 M455.2,768 L455.2,788.7 M455.2,792.7 L455.2,798.7 M455.2,802.7 L455.2,823.4 M455.2,823.4 L448.5,823.4 M444.5,823.4 L438.5,823.4 M434.5,823.4 L427.9,823.4 M427.9,823.4 L427.9,802.7 M427.9,798.7 L427.9,792.7 M427.9,788.7 L427.9,768 " fill="none" stroke="#555" stroke-width="1.8" stroke-linecap="square"/>
<text x="343" y="756.5" font-size="18" font-weight="normal" text-anchor="middle" dominant-baseline="central" fill="#1e1e1e" stroke="#1e1e1e" stroke-width="0.4">X20</text>
<text x="440" y="756.5" font-size="18" font-weight="normal" text-anchor="middle" dominant-baseline="central" fill="#1e1e1e" stroke="#1e1e1e" stroke-width="0.4">X19</text>
<text x="343" y="793.3" font-size="9.5" font-weight="normal" text-anchor="middle" dominant-baseline="central" fill="#1e1e1e" transform="rotate(90 343 793.3)" textLength="21" lengthAdjust="spacingAndGlyphs" stroke="#1e1e1e" stroke-width="0.2">S2-1</text>
<text x="441.5" y="793.3" font-size="9.5" font-weight="normal" text-anchor="middle" dominant-baseline="central" fill="#1e1e1e" transform="rotate(90 441.5 793.3)" textLength="21" lengthAdjust="spacingAndGlyphs" stroke="#1e1e1e" stroke-width="0.2">S2-2</text>
<line x1="343" y1="814.8" x2="367.3" y2="814.8" stroke="#333" stroke-width="1.6"/>
<circle cx="371.8" cy="814.8" r="4.5" fill="#fff" stroke="#333" stroke-width="1.6"/>
<line x1="376" y1="813.5" x2="415" y2="801.9" stroke="#333" stroke-width="1.8"/>
<line x1="394.8" y1="808" x2="394.8" y2="795.6" stroke="#333" stroke-width="1.6"/>
<line x1="389" y1="795.6" x2="402.6" y2="795.6" stroke="#333" stroke-width="1.6"/>
<circle cx="413.5" cy="814.8" r="4.5" fill="#fff" stroke="#333" stroke-width="1.6"/>
<line x1="418" y1="814.8" x2="440.8" y2="814.8" stroke="#333" stroke-width="1.6"/>
<rect x="340.5" y="812.3" width="5" height="5" fill="#fff" stroke="#333" stroke-width="1.6"/>
<rect x="438.3" y="812.3" width="5" height="5" fill="#fff" stroke="#333" stroke-width="1.6"/>
<text x="395.4" y="777.4" font-size="20" font-weight="bold" text-anchor="middle" dominant-baseline="central" fill="#1e1e1e" textLength="20.2" lengthAdjust="spacingAndGlyphs" stroke="#1e1e1e" stroke-width="0.5">S2</text>
<path d="M601,706.7 L601,872.7 L322.8,872.7 L322.8,969" fill="none" stroke="#6e6e6e" stroke-width="2" stroke-linejoin="miter"/>
<text x="499.8" y="865.7" font-size="11" font-weight="normal" text-anchor="middle" dominant-baseline="central" fill="#1e1e1e" textLength="68" lengthAdjust="spacingAndGlyphs" stroke="#1e1e1e" stroke-width="0.2">red - 2,5mm²</text>
<text x="610.7" y="889" font-size="11" font-weight="normal" text-anchor="middle" dominant-baseline="central" fill="#1e1e1e" textLength="77" lengthAdjust="spacingAndGlyphs" stroke="#1e1e1e" stroke-width="0.2">black - 2,5mm²</text>
<line x1="592.3" y1="746" x2="592.3" y2="835.7" stroke="#555" stroke-width="1.8" stroke-dasharray="9 3.5"/>
<line x1="610.2" y1="746" x2="610.2" y2="835.7" stroke="#555" stroke-width="1.8" stroke-dasharray="9 3.5"/>
<line x1="598" y1="746" x2="604" y2="746" stroke="#555" stroke-width="1.2"/>
<line x1="598" y1="835.7" x2="604" y2="835.7" stroke="#555" stroke-width="1.2"/>
<line x1="717.8" y1="746" x2="717.8" y2="835.7" stroke="#555" stroke-width="1.8" stroke-dasharray="9 3.5"/>
<line x1="735.7" y1="746" x2="735.7" y2="835.7" stroke="#555" stroke-width="1.8" stroke-dasharray="9 3.5"/>
<line x1="723.5" y1="746" x2="729.5" y2="746" stroke="#555" stroke-width="1.2"/>
<line x1="723.5" y1="835.7" x2="729.5" y2="835.7" stroke="#555" stroke-width="1.2"/>
<text x="589" y="756.6" font-size="18" font-weight="normal" text-anchor="end" dominant-baseline="central" fill="#1e1e1e" stroke="#1e1e1e" stroke-width="0.4">X23</text>
<text x="589" y="776.9" font-size="18" font-weight="normal" text-anchor="end" dominant-baseline="central" fill="#1e1e1e" stroke="#1e1e1e" stroke-width="0.4">X36</text>
<text x="589" y="816.7" font-size="18" font-weight="normal" text-anchor="end" dominant-baseline="central" fill="#1e1e1e" stroke="#1e1e1e" stroke-width="0.4">X25</text>
<text x="741.5" y="756.6" font-size="18" font-weight="normal" text-anchor="start" dominant-baseline="central" fill="#1e1e1e" stroke="#1e1e1e" stroke-width="0.4">X24</text>
<text x="741.5" y="776.9" font-size="18" font-weight="normal" text-anchor="start" dominant-baseline="central" fill="#1e1e1e" stroke="#1e1e1e" stroke-width="0.4">X37</text>
<text x="741.5" y="816.7" font-size="18" font-weight="normal" text-anchor="start" dominant-baseline="central" fill="#1e1e1e" stroke="#1e1e1e" stroke-width="0.4">X26</text>
<line x1="601" y1="790" x2="639" y2="790" stroke="#444" stroke-width="1.8"/>
<line x1="644.2" y1="790" x2="651.8" y2="790" stroke="#444" stroke-width="1.8"/>
<circle cx="641.6" cy="790" r="2.7" fill="#fff" stroke="#333" stroke-width="1.4"/>
<line x1="651.8" y1="772" x2="651.8" y2="807.7" stroke="#333" stroke-width="1.8"/>
<line x1="658" y1="779.3" x2="658" y2="802.9" stroke="#333" stroke-width="1.8"/>
<line x1="664.3" y1="772" x2="664.3" y2="807.7" stroke="#333" stroke-width="1.8"/>
<line x1="670.8" y1="779.3" x2="670.8" y2="802.9" stroke="#333" stroke-width="1.8"/>
<line x1="677.3" y1="772" x2="677.3" y2="807.7" stroke="#333" stroke-width="1.8"/>
<line x1="683" y1="779.3" x2="683" y2="802.9" stroke="#333" stroke-width="1.8"/>
<line x1="683" y1="790" x2="689.7" y2="790" stroke="#444" stroke-width="1.8"/>
<line x1="695.1" y1="790" x2="726.5" y2="790" stroke="#444" stroke-width="1.8"/>
<circle cx="692.4" cy="790" r="2.7" fill="#fff" stroke="#333" stroke-width="1.4"/>
<text x="643" y="775.5" font-size="10" font-weight="normal" text-anchor="middle" dominant-baseline="central" fill="#1e1e1e" stroke="#1e1e1e" stroke-width="0.2">+</text>
<line x1="690.7" y1="775" x2="694.7" y2="775" stroke="#555" stroke-width="1"/>
<text x="634" y="801" font-size="10" font-weight="normal" text-anchor="middle" dominant-baseline="central" fill="#1e1e1e" textLength="22" lengthAdjust="spacingAndGlyphs" stroke="#1e1e1e" stroke-width="0.2">B1-1</text>
<text x="700" y="801" font-size="10" font-weight="normal" text-anchor="middle" dominant-baseline="central" fill="#1e1e1e" textLength="22" lengthAdjust="spacingAndGlyphs" stroke="#1e1e1e" stroke-width="0.2">B1-2</text>
<text x="666.8" y="753.3" font-size="20" font-weight="bold" text-anchor="middle" dominant-baseline="central" fill="#1e1e1e" textLength="17.9" lengthAdjust="spacingAndGlyphs" stroke="#1e1e1e" stroke-width="0.5">B1</text>
<rect x="169.2" y="1011.2" width="280.4" height="83.5" fill="none" stroke="#4d4d4d" stroke-width="2"/>
<rect x="147.7" y="1094.7" width="322.8" height="21" fill="none" stroke="#4d4d4d" stroke-width="2.2"/>
<circle cx="336.7" cy="1044.8" r="14.4" fill="none" stroke="#333" stroke-width="1.8"/>
<circle cx="399.7" cy="1044.8" r="14.4" fill="none" stroke="#333" stroke-width="1.8"/>
<line x1="336.7" y1="999.4" x2="336.7" y2="1044.8" stroke="#333" stroke-width="1.6"/>
<path d="M399.7,1044.8 L399.7,932.8 L513.8,932.8" fill="none" stroke="#333" stroke-width="1.8" stroke-linejoin="miter"/>
<text x="303.8" y="1074.2" font-size="20" font-weight="bold" text-anchor="middle" dominant-baseline="central" fill="#1e1e1e" textLength="22.3" lengthAdjust="spacingAndGlyphs" stroke="#1e1e1e" stroke-width="0.5">A1</text>
<rect x="196.8" y="1031" width="54.3" height="29.6" fill="#fff" stroke="#333" stroke-width="1.6"/>
<path d="M216.5,1031 L216.5,1023.8 L230,1023.8 L230,1031" fill="none" stroke="#333" stroke-width="1.6" stroke-linejoin="miter"/>
<rect x="199" y="1033.2" width="9.8" height="10.2" fill="#fff" stroke="#333" stroke-width="1.5"/>
<rect x="212.1" y="1033.2" width="9.8" height="10.2" fill="#fff" stroke="#333" stroke-width="1.5"/>
<rect x="225.2" y="1033.2" width="9.8" height="10.2" fill="#fff" stroke="#333" stroke-width="1.5"/>
<rect x="238.4" y="1033.2" width="9.8" height="10.2" fill="#fff" stroke="#333" stroke-width="1.5"/>
<rect x="199" y="1048.1" width="9.8" height="10.2" fill="#fff" stroke="#333" stroke-width="1.5"/>
<rect x="212.1" y="1048.1" width="9.8" height="10.2" fill="#fff" stroke="#333" stroke-width="1.5"/>
<rect x="225.2" y="1048.1" width="9.8" height="10.2" fill="#fff" stroke="#333" stroke-width="1.5"/>
<rect x="238.4" y="1048.1" width="9.8" height="10.2" fill="#fff" stroke="#333" stroke-width="1.5"/>
<text x="196.8" y="1023.8" font-size="10" font-weight="normal" text-anchor="middle" dominant-baseline="central" fill="#1e1e1e" stroke="#1e1e1e" stroke-width="0.2">8</text>
<text x="210" y="1023.8" font-size="10" font-weight="normal" text-anchor="middle" dominant-baseline="central" fill="#1e1e1e" stroke="#1e1e1e" stroke-width="0.2">7</text>
<text x="237" y="1023.8" font-size="10" font-weight="normal" text-anchor="middle" dominant-baseline="central" fill="#1e1e1e" stroke="#1e1e1e" stroke-width="0.2">6</text>
<text x="250.6" y="1023.8" font-size="10" font-weight="normal" text-anchor="middle" dominant-baseline="central" fill="#1e1e1e" stroke="#1e1e1e" stroke-width="0.2">5</text>
<text x="196.8" y="1069" font-size="10" font-weight="normal" text-anchor="middle" dominant-baseline="central" fill="#1e1e1e" stroke="#1e1e1e" stroke-width="0.2">4</text>
<text x="210.4" y="1069" font-size="10" font-weight="normal" text-anchor="middle" dominant-baseline="central" fill="#1e1e1e" stroke="#1e1e1e" stroke-width="0.2">3</text>
<text x="236.7" y="1069" font-size="10" font-weight="normal" text-anchor="middle" dominant-baseline="central" fill="#1e1e1e" stroke="#1e1e1e" stroke-width="0.2">2</text>
<text x="250.6" y="1069" font-size="10" font-weight="normal" text-anchor="middle" dominant-baseline="central" fill="#1e1e1e" stroke="#1e1e1e" stroke-width="0.2">1</text>
<line x1="198" y1="1053.2" x2="203.9" y2="1053.2" stroke="#ababab" stroke-width="2"/>
<text x="274.7" y="1041.4" font-size="18" font-weight="normal" text-anchor="middle" dominant-baseline="central" fill="#1e1e1e" stroke="#1e1e1e" stroke-width="0.4">X41</text>
<path d="M309.7,960.8 L329.6,960.8 M333.6,960.8 L339.6,960.8 M343.6,960.8 L363.5,960.8 M363.5,960.8 L363.5,973.1 M363.5,977.1 L363.5,983.1 M363.5,987.1 L363.5,999.4 M363.5,999.4 L343.6,999.4 M339.6,999.4 L333.6,999.4 M329.6,999.4 L309.7,999.4 M309.7,999.4 L309.7,987.1 M309.7,983.1 L309.7,977.1 M309.7,973.1 L309.7,960.8 " fill="none" stroke="#8a8a8a" stroke-width="1.6" stroke-linecap="square"/>
<path d="M314.3,980.8 L322.8,973.2 L331.3,980.8" fill="none" stroke="#2a2a2a" stroke-width="1.8" stroke-linejoin="miter"/>
<path d="M314.3,988.5 L322.8,980.9 L331.3,988.5" fill="none" stroke="#2a2a2a" stroke-width="1.8" stroke-linejoin="miter"/>
<line x1="322.8" y1="980.9" x2="322.8" y2="990.7" stroke="#2a2a2a" stroke-width="1.5"/>
<rect x="320.3" y="967" width="5" height="5" fill="#fff" stroke="#333" stroke-width="1.6"/>
<rect x="320.3" y="988.2" width="5" height="5" fill="#fff" stroke="#333" stroke-width="1.6"/>
<path d="M339.7,980.8 L348.2,973.2 L356.7,980.8" fill="none" stroke="#2a2a2a" stroke-width="1.8" stroke-linejoin="miter"/>
<path d="M339.7,988.5 L348.2,980.9 L356.7,988.5" fill="none" stroke="#2a2a2a" stroke-width="1.8" stroke-linejoin="miter"/>
<line x1="348.2" y1="980.9" x2="348.2" y2="990.7" stroke="#2a2a2a" stroke-width="1.5"/>
<rect x="345.7" y="967" width="5" height="5" fill="#fff" stroke="#333" stroke-width="1.6"/>
<rect x="345.7" y="988.2" width="5" height="5" fill="#fff" stroke="#333" stroke-width="1.6"/>
<text x="303.6" y="964.5" font-size="9" font-weight="normal" text-anchor="middle" dominant-baseline="central" fill="#1e1e1e" stroke="#1e1e1e" stroke-width="0.2">+</text>
<text x="303.6" y="995.5" font-size="9" font-weight="normal" text-anchor="middle" dominant-baseline="central" fill="#1e1e1e" stroke="#1e1e1e" stroke-width="0.2">+</text>
<line x1="365" y1="964.5" x2="368" y2="964.5" stroke="#555" stroke-width="1"/>
<line x1="365" y1="995.5" x2="368" y2="995.5" stroke="#555" stroke-width="1"/>
<text x="276.3" y="980.5" font-size="18" font-weight="normal" text-anchor="middle" dominant-baseline="central" fill="#1e1e1e" stroke="#1e1e1e" stroke-width="0.4">X42</text>
<path d="M385,960.8 L392.4,960.8 M396.4,960.8 L402.4,960.8 M406.4,960.8 L413.9,960.8 M413.9,960.8 L413.9,973.1 M413.9,977.1 L413.9,983.1 M413.9,987.1 L413.9,999.4 M413.9,999.4 L406.4,999.4 M402.4,999.4 L396.4,999.4 M392.4,999.4 L385,999.4 M385,999.4 L385,987.1 M385,983.1 L385,977.1 M385,973.1 L385,960.8 " fill="none" stroke="#a0a0a0" stroke-width="1.6" stroke-linecap="square"/>
<path d="M391.2,980.8 L399.7,973.2 L408.2,980.8" fill="none" stroke="#2a2a2a" stroke-width="1.8" stroke-linejoin="miter"/>
<path d="M391.2,988.5 L399.7,980.9 L408.2,988.5" fill="none" stroke="#2a2a2a" stroke-width="1.8" stroke-linejoin="miter"/>
<line x1="399.7" y1="980.9" x2="399.7" y2="990.7" stroke="#2a2a2a" stroke-width="1.5"/>
<circle cx="399.7" cy="969.5" r="2.6" fill="#fff" stroke="#333" stroke-width="1.4"/>
<circle cx="399.7" cy="990.7" r="2.6" fill="#fff" stroke="#333" stroke-width="1.4"/>
<text x="440" y="980.5" font-size="18" font-weight="normal" text-anchor="middle" dominant-baseline="central" fill="#1e1e1e" stroke="#1e1e1e" stroke-width="0.4">X43</text>
<path d="M231.4,961.4 L252,995.5 L211.2,995.5 L231.4,961.4" fill="none" stroke="#2a2a2a" stroke-width="1.9" stroke-linejoin="miter"/>
<circle cx="230.9" cy="982.6" r="5" fill="none" stroke="#1e1e1e" stroke-width="1.8"/>
<line x1="236" y1="973.5" x2="236" y2="987.8" stroke="#1e1e1e" stroke-width="2"/>
<path d="M489.4,971.9 L509,1006 L470.3,1006 L489.4,971.9" fill="none" stroke="#2a2a2a" stroke-width="1.9" stroke-linejoin="miter"/>
<circle cx="488.9" cy="993.1" r="5" fill="none" stroke="#1e1e1e" stroke-width="1.8"/>
<line x1="494" y1="984" x2="494" y2="998.3" stroke="#1e1e1e" stroke-width="2"/>
<path d="M513.8,918.2 L526.4,918.2 M530.4,918.2 L536.4,918.2 M540.4,918.2 L553,918.2 M553,918.2 L553,925.5 M553,929.5 L553,935.5 M553,939.5 L553,946.8 M553,946.8 L540.4,946.8 M536.4,946.8 L530.4,946.8 M526.4,946.8 L513.8,946.8 M513.8,946.8 L513.8,939.5 M513.8,935.5 L513.8,929.5 M513.8,925.5 L513.8,918.2 " fill="none" stroke="#a0a0a0" stroke-width="1.6" stroke-linecap="square"/>
<line x1="513.8" y1="932.8" x2="520.8" y2="932.8" stroke="#333" stroke-width="1.5"/>
<circle cx="523.4" cy="932.8" r="2.6" fill="#fff" stroke="#333" stroke-width="1.4"/>
<path d="M535.1,924.3 L527.5,932.8 L535.1,941.3" fill="none" stroke="#2a2a2a" stroke-width="1.8" stroke-linejoin="miter"/>
<path d="M543.1,924.3 L535.5,932.8 L543.1,941.3" fill="none" stroke="#2a2a2a" stroke-width="1.8" stroke-linejoin="miter"/>
<line x1="535.5" y1="932.8" x2="542.1" y2="932.8" stroke="#333" stroke-width="1.5"/>
<circle cx="544.7" cy="932.8" r="2.6" fill="#fff" stroke="#333" stroke-width="1.4"/>
<path d="M547.3,932.8 L628.5,932.8" fill="none" stroke="#333" stroke-width="1.8" stroke-linejoin="miter"/>
<text x="533.9" y="962" font-size="18" font-weight="normal" text-anchor="middle" dominant-baseline="central" fill="#1e1e1e" stroke="#1e1e1e" stroke-width="0.4">X44</text>
<path d="M642.5,918.5 A14,14 0 0 0 642.5,946.5" fill="none" stroke="#333" stroke-width="1.8"/>
<text x="615.9" y="918.2" font-size="20" font-weight="bold" text-anchor="middle" dominant-baseline="central" fill="#1e1e1e" textLength="22.6" lengthAdjust="spacingAndGlyphs" stroke="#1e1e1e" stroke-width="0.5">C1</text>
<text x="638.7" y="933.4" font-size="9.5" font-weight="normal" text-anchor="start" dominant-baseline="central" fill="#1e1e1e" textLength="122" lengthAdjust="spacingAndGlyphs" stroke="#1e1e1e" stroke-width="0.2">~100-240Vac / 50-60Hz</text>
<text x="525.9" y="1041.4" font-size="17" font-weight="normal" text-anchor="start" dominant-baseline="central" fill="#1e1e1e" textLength="105.5" lengthAdjust="spacingAndGlyphs" stroke="#1e1e1e" stroke-width="0.4">DETAIL X44:</text>
<line x1="525.9" y1="1050.3" x2="631.4" y2="1050.3" stroke="#333" stroke-width="1.6"/>
<path d="M624.5,1086.2 L634.9,1075.4 L667.9,1075.4 L677.9,1086.2 L677.9,1112.3 L624.5,1112.3 L624.5,1086.2" fill="none" stroke="#333" stroke-width="1.8" stroke-linejoin="miter"/>
<circle cx="651.6" cy="1084.6" r="4.5" fill="none" stroke="#333" stroke-width="1.5"/>
<circle cx="634.9" cy="1102.5" r="4.5" fill="none" stroke="#333" stroke-width="1.5"/>
<circle cx="667.3" cy="1102.5" r="4.5" fill="none" stroke="#333" stroke-width="1.5"/>
<line x1="590.6" y1="1102.5" x2="634.9" y2="1102.5" stroke="#333" stroke-width="1.5"/>
<line x1="667.3" y1="1102.5" x2="713.8" y2="1102.5" stroke="#333" stroke-width="1.5"/>
<line x1="651.6" y1="1042.4" x2="651.6" y2="1075.4" stroke="#999" stroke-width="1.2"/>
<text x="605.3" y="1095.2" font-size="11" font-weight="normal" text-anchor="middle" dominant-baseline="central" fill="#1e1e1e" textLength="30" lengthAdjust="spacingAndGlyphs" stroke="#1e1e1e" stroke-width="0.2">black</text>
<text x="699.2" y="1095.2" font-size="11" font-weight="normal" text-anchor="middle" dominant-baseline="central" fill="#1e1e1e" textLength="30" lengthAdjust="spacingAndGlyphs" stroke="#1e1e1e" stroke-width="0.2">white</text>
<text x="660" y="1055" font-size="11" font-weight="normal" text-anchor="middle" dominant-baseline="central" fill="#1e1e1e" transform="rotate(-90 660 1055)" textLength="31" lengthAdjust="spacingAndGlyphs" stroke="#1e1e1e" stroke-width="0.2">green</text>
<line x1="808" y1="892.8" x2="1586" y2="892.8" stroke="#333" stroke-width="2"/>
<line x1="808" y1="892.8" x2="808" y2="1112.7" stroke="#333" stroke-width="2"/>
<line x1="808" y1="922.8" x2="1586" y2="922.8" stroke="#333" stroke-width="2"/>
<line x1="808" y1="945.4" x2="1586" y2="945.4" stroke="#333" stroke-width="2"/>
<line x1="808" y1="966.4" x2="1586" y2="966.4" stroke="#333" stroke-width="2"/>
<line x1="808" y1="987.6" x2="1586" y2="987.6" stroke="#333" stroke-width="2"/>
<line x1="808" y1="1008.7" x2="1586" y2="1008.7" stroke="#333" stroke-width="2"/>
<line x1="808" y1="1030" x2="1586" y2="1030" stroke="#333" stroke-width="2"/>
<line x1="808" y1="1050.4" x2="1586" y2="1050.4" stroke="#333" stroke-width="2"/>
<line x1="808" y1="1071" x2="1586" y2="1071" stroke="#333" stroke-width="2"/>
<line x1="808" y1="1092" x2="1586" y2="1092" stroke="#333" stroke-width="2"/>
<line x1="808" y1="1112.7" x2="1586" y2="1112.7" stroke="#333" stroke-width="2"/>
<line x1="910.5" y1="922.8" x2="910.5" y2="1112.7" stroke="#333" stroke-width="2"/>
<line x1="1195.4" y1="922.8" x2="1195.4" y2="1112.7" stroke="#333" stroke-width="2"/>
<line x1="1309.2" y1="922.8" x2="1309.2" y2="1112.7" stroke="#333" stroke-width="2"/>
<text x="1200.5" y="907.5" font-size="15" font-weight="bold" text-anchor="middle" dominant-baseline="central" fill="#1e1e1e" textLength="131.7" lengthAdjust="spacingAndGlyphs" stroke="#1e1e1e" stroke-width="0.5">Legende / Legend</text>
<text x="858.7" y="933.2" font-size="15" font-weight="bold" text-anchor="middle" dominant-baseline="central" fill="#1e1e1e" textLength="53" lengthAdjust="spacingAndGlyphs" stroke="#1e1e1e" stroke-width="0.5">Symbol</text>
<text x="913" y="933.2" font-size="15" font-weight="bold" text-anchor="start" dominant-baseline="central" fill="#1e1e1e" textLength="79.5" lengthAdjust="spacingAndGlyphs" stroke="#1e1e1e" stroke-width="0.5">Description</text>
<text x="1252" y="933.2" font-size="15" font-weight="bold" text-anchor="middle" dominant-baseline="central" fill="#1e1e1e" textLength="52.5" lengthAdjust="spacingAndGlyphs" stroke="#1e1e1e" stroke-width="0.5">Symbol</text>
<text x="1311" y="933.2" font-size="15" font-weight="bold" text-anchor="start" dominant-baseline="central" fill="#1e1e1e" textLength="78.9" lengthAdjust="spacingAndGlyphs" stroke="#1e1e1e" stroke-width="0.5">Description</text>
<text x="858.7" y="955.4" font-size="15" font-weight="normal" text-anchor="middle" dominant-baseline="central" fill="#1e1e1e" stroke="#1e1e1e" stroke-width="0.4">A1</text>
<text x="913" y="955.4" font-size="15" font-weight="normal" text-anchor="start" dominant-baseline="central" fill="#1e1e1e" textLength="56.4" lengthAdjust="spacingAndGlyphs" stroke="#1e1e1e" stroke-width="0.4">charger</text>
<text x="1252" y="955.4" font-size="15" font-weight="normal" text-anchor="middle" dominant-baseline="central" fill="#1e1e1e" stroke="#1e1e1e" stroke-width="0.4">M1</text>
<text x="1311" y="955.4" font-size="15" font-weight="normal" text-anchor="start" dominant-baseline="central" fill="#1e1e1e" textLength="126.3" lengthAdjust="spacingAndGlyphs" stroke="#1e1e1e" stroke-width="0.4">main broom drive</text>
<text x="858.7" y="976.5" font-size="15" font-weight="normal" text-anchor="middle" dominant-baseline="central" fill="#1e1e1e" stroke="#1e1e1e" stroke-width="0.4">B1</text>
<text x="913" y="976.5" font-size="15" font-weight="normal" text-anchor="start" dominant-baseline="central" fill="#1e1e1e" textLength="51.8" lengthAdjust="spacingAndGlyphs" stroke="#1e1e1e" stroke-width="0.4">battery</text>
<text x="1252" y="976.5" font-size="15" font-weight="normal" text-anchor="middle" dominant-baseline="central" fill="#1e1e1e" stroke="#1e1e1e" stroke-width="0.4">M2.1</text>
<text x="1311" y="976.5" font-size="15" font-weight="normal" text-anchor="start" dominant-baseline="central" fill="#1e1e1e" textLength="144.2" lengthAdjust="spacingAndGlyphs" stroke="#1e1e1e" stroke-width="0.4">side broom drive left</text>
<text x="858.7" y="997.7" font-size="15" font-weight="normal" text-anchor="middle" dominant-baseline="central" fill="#1e1e1e" stroke="#1e1e1e" stroke-width="0.4">C1</text>
<text x="913" y="997.7" font-size="15" font-weight="normal" text-anchor="start" dominant-baseline="central" fill="#1e1e1e" textLength="100.5" lengthAdjust="spacingAndGlyphs" stroke="#1e1e1e" stroke-width="0.4">charging plug</text>
<text x="1252" y="997.7" font-size="15" font-weight="normal" text-anchor="middle" dominant-baseline="central" fill="#1e1e1e" stroke="#1e1e1e" stroke-width="0.4">M2.2</text>
<text x="1311" y="997.7" font-size="15" font-weight="normal" text-anchor="start" dominant-baseline="central" fill="#1e1e1e" textLength="153.7" lengthAdjust="spacingAndGlyphs" stroke="#1e1e1e" stroke-width="0.4">side broom drive right</text>
<text x="858.7" y="1018.9" font-size="15" font-weight="normal" text-anchor="middle" dominant-baseline="central" fill="#1e1e1e" stroke="#1e1e1e" stroke-width="0.4">X13</text>
<text x="913" y="1018.9" font-size="15" font-weight="normal" text-anchor="start" dominant-baseline="central" fill="#1e1e1e" textLength="73.8" lengthAdjust="spacingAndGlyphs" stroke="#1e1e1e" stroke-width="0.4">IEC socket</text>
<text x="1252" y="1018.9" font-size="15" font-weight="normal" text-anchor="middle" dominant-baseline="central" fill="#1e1e1e" stroke="#1e1e1e" stroke-width="0.4">M3</text>
<text x="1311" y="1018.9" font-size="15" font-weight="normal" text-anchor="start" dominant-baseline="central" fill="#1e1e1e" textLength="86.6" lengthAdjust="spacingAndGlyphs" stroke="#1e1e1e" stroke-width="0.4">vacuum fan</text>
<text x="858.7" y="1039.7" font-size="15" font-weight="normal" text-anchor="middle" dominant-baseline="central" fill="#1e1e1e" stroke="#1e1e1e" stroke-width="0.4">P1</text>
<text x="913" y="1039.7" font-size="15" font-weight="normal" text-anchor="start" dominant-baseline="central" fill="#1e1e1e" textLength="110.7" lengthAdjust="spacingAndGlyphs" stroke="#1e1e1e" stroke-width="0.4">controller / PCB</text>
<text x="1252" y="1039.7" font-size="15" font-weight="normal" text-anchor="middle" dominant-baseline="central" fill="#1e1e1e" stroke="#1e1e1e" stroke-width="0.4">M4</text>
<text x="1311" y="1039.7" font-size="15" font-weight="normal" text-anchor="start" dominant-baseline="central" fill="#1e1e1e" textLength="132.2" lengthAdjust="spacingAndGlyphs" stroke="#1e1e1e" stroke-width="0.4">propel drive motor</text>
<text x="858.7" y="1060.2" font-size="15" font-weight="normal" text-anchor="middle" dominant-baseline="central" fill="#1e1e1e" stroke="#1e1e1e" stroke-width="0.4">F1</text>
<text x="913" y="1060.2" font-size="15" font-weight="normal" text-anchor="start" dominant-baseline="central" fill="#1e1e1e" textLength="232.7" lengthAdjust="spacingAndGlyphs" stroke="#1e1e1e" stroke-width="0.4">circuit breaker (main circuit) 40A</text>
<text x="1252" y="1060.2" font-size="15" font-weight="normal" text-anchor="middle" dominant-baseline="central" fill="#1e1e1e" stroke="#1e1e1e" stroke-width="0.4">S1</text>
<text x="1311" y="1060.2" font-size="15" font-weight="normal" text-anchor="start" dominant-baseline="central" fill="#1e1e1e" textLength="73.3" lengthAdjust="spacingAndGlyphs" stroke="#1e1e1e" stroke-width="0.4">key switch</text>
<text x="858.7" y="1081" font-size="15" font-weight="normal" text-anchor="middle" dominant-baseline="central" fill="#1e1e1e" stroke="#1e1e1e" stroke-width="0.4">F2</text>
<text x="913" y="1081" font-size="15" font-weight="normal" text-anchor="start" dominant-baseline="central" fill="#1e1e1e" textLength="243.5" lengthAdjust="spacingAndGlyphs" stroke="#1e1e1e" stroke-width="0.4">circuit breaker (propel circuit) 20A</text>
<text x="1252" y="1081" font-size="15" font-weight="normal" text-anchor="middle" dominant-baseline="central" fill="#1e1e1e" stroke="#1e1e1e" stroke-width="0.4">S2</text>
<text x="1311" y="1081" font-size="15" font-weight="normal" text-anchor="start" dominant-baseline="central" fill="#1e1e1e" textLength="151.2" lengthAdjust="spacingAndGlyphs" stroke="#1e1e1e" stroke-width="0.4">cover contact switch</text>
<text x="858.7" y="1101.8" font-size="15" font-weight="normal" text-anchor="middle" dominant-baseline="central" fill="#1e1e1e" stroke="#1e1e1e" stroke-width="0.4">K1</text>
<text x="913" y="1101.8" font-size="15" font-weight="normal" text-anchor="start" dominant-baseline="central" fill="#1e1e1e" textLength="39" lengthAdjust="spacingAndGlyphs" stroke="#1e1e1e" stroke-width="0.4">Relay</text>
<text x="1252" y="1101.8" font-size="15" font-weight="normal" text-anchor="middle" dominant-baseline="central" fill="#1e1e1e" stroke="#1e1e1e" stroke-width="0.4">X1 - X44</text>
<text x="1311" y="1101.8" font-size="15" font-weight="normal" text-anchor="start" dominant-baseline="central" fill="#1e1e1e" textLength="203.2" lengthAdjust="spacingAndGlyphs" stroke="#1e1e1e" stroke-width="0.4">connectors of cable harness</text>
<circle cx="726.5" cy="422.6" r="6.5" fill="#111"/>
<circle cx="726.5" cy="529" r="6.5" fill="#111"/>
<circle cx="785" cy="177.2" r="6.5" fill="#111"/>
<circle cx="1090.5" cy="126.2" r="6.5" fill="#111"/>
<circle cx="1066" cy="151.3" r="6.5" fill="#111"/>
<circle cx="601" cy="706.7" r="6.5" fill="#111"/>
<circle cx="601" cy="790" r="6.5" fill="#111"/>
<circle cx="726.5" cy="790" r="6.5" fill="#111"/>
</svg>
</body></html>
